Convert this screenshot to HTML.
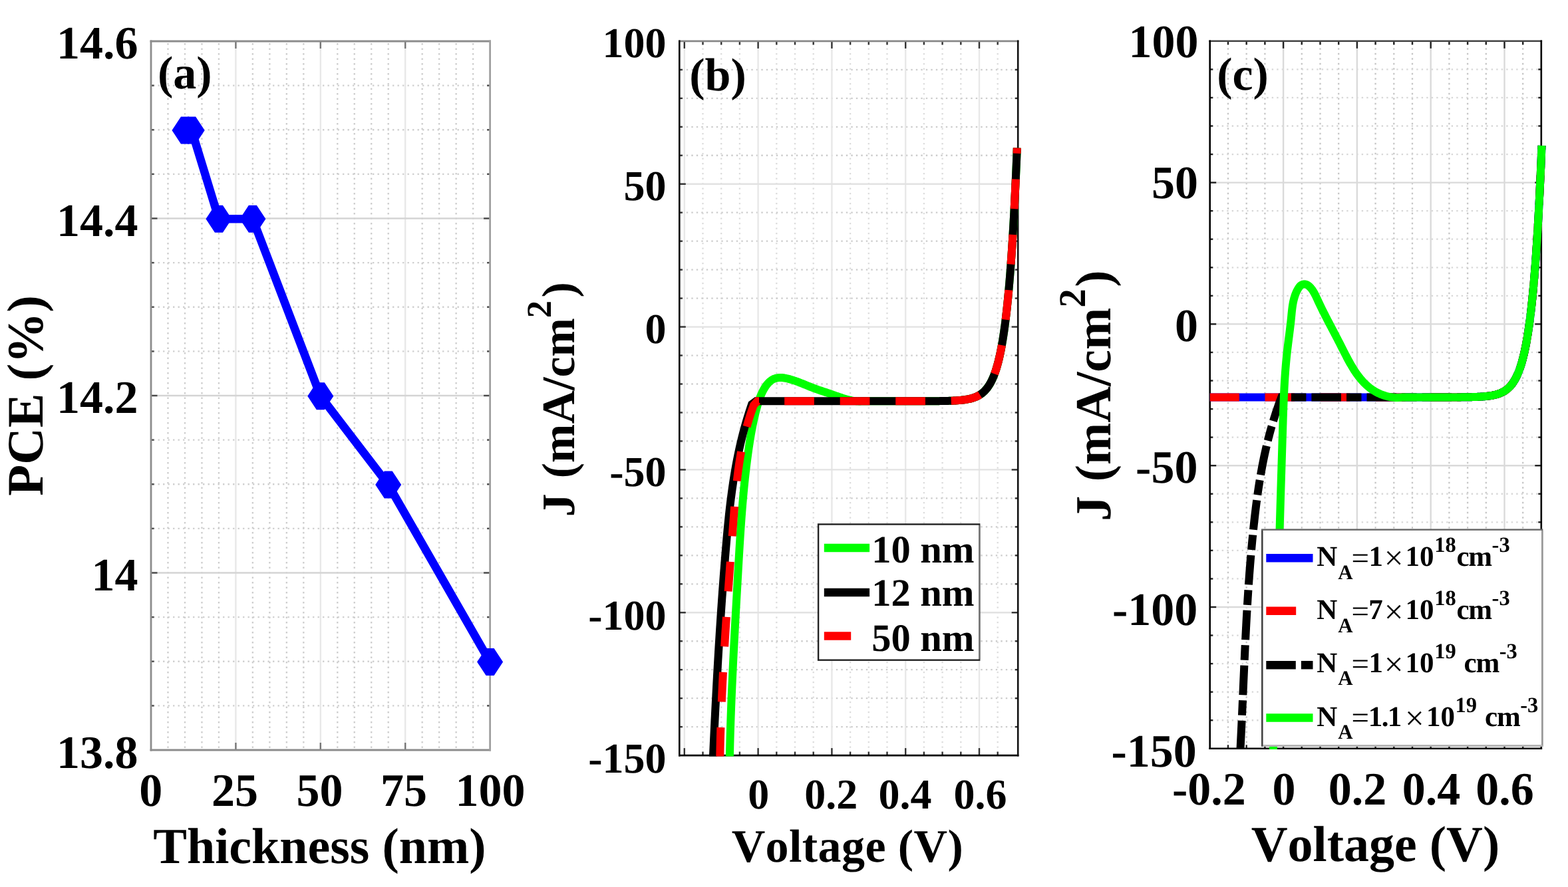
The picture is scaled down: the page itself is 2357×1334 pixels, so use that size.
<!DOCTYPE html>
<html lang="en"><head><meta charset="utf-8"><title>PCE and J-V characteristics</title>
<style>
html,body{margin:0;padding:0;background:#fff;width:2357px;height:1334px;overflow:hidden}
svg{display:block;filter:blur(0.55px)}
text{font-family:"Liberation Serif","DejaVu Serif",serif;font-weight:bold;fill:#000;font-kerning:none;font-feature-settings:"kern" 0,"liga" 0;text-rendering:geometricPrecision;white-space:pre}
</style></head><body>
<svg width="2357" height="1334" viewBox="0 0 2357 1334">
<rect width="2357" height="1334" fill="#fff"/>
<g id="a-grid">
<line x1="252.48" y1="62" x2="252.48" y2="1128" stroke="#cdcdcd" stroke-width="2.3" stroke-dasharray="2.4 5.1" stroke-dashoffset="-3"/>
<line x1="277.96" y1="62" x2="277.96" y2="1128" stroke="#cdcdcd" stroke-width="2.3" stroke-dasharray="2.4 5.1" stroke-dashoffset="-3"/>
<line x1="303.44" y1="62" x2="303.44" y2="1128" stroke="#cdcdcd" stroke-width="2.3" stroke-dasharray="2.4 5.1" stroke-dashoffset="-3"/>
<line x1="328.92" y1="62" x2="328.92" y2="1128" stroke="#cdcdcd" stroke-width="2.3" stroke-dasharray="2.4 5.1" stroke-dashoffset="-3"/>
<line x1="379.88" y1="62" x2="379.88" y2="1128" stroke="#cdcdcd" stroke-width="2.3" stroke-dasharray="2.4 5.1" stroke-dashoffset="-3"/>
<line x1="405.36" y1="62" x2="405.36" y2="1128" stroke="#cdcdcd" stroke-width="2.3" stroke-dasharray="2.4 5.1" stroke-dashoffset="-3"/>
<line x1="430.84" y1="62" x2="430.84" y2="1128" stroke="#cdcdcd" stroke-width="2.3" stroke-dasharray="2.4 5.1" stroke-dashoffset="-3"/>
<line x1="456.32" y1="62" x2="456.32" y2="1128" stroke="#cdcdcd" stroke-width="2.3" stroke-dasharray="2.4 5.1" stroke-dashoffset="-3"/>
<line x1="507.28" y1="62" x2="507.28" y2="1128" stroke="#cdcdcd" stroke-width="2.3" stroke-dasharray="2.4 5.1" stroke-dashoffset="-3"/>
<line x1="532.76" y1="62" x2="532.76" y2="1128" stroke="#cdcdcd" stroke-width="2.3" stroke-dasharray="2.4 5.1" stroke-dashoffset="-3"/>
<line x1="558.24" y1="62" x2="558.24" y2="1128" stroke="#cdcdcd" stroke-width="2.3" stroke-dasharray="2.4 5.1" stroke-dashoffset="-3"/>
<line x1="583.72" y1="62" x2="583.72" y2="1128" stroke="#cdcdcd" stroke-width="2.3" stroke-dasharray="2.4 5.1" stroke-dashoffset="-3"/>
<line x1="634.68" y1="62" x2="634.68" y2="1128" stroke="#cdcdcd" stroke-width="2.3" stroke-dasharray="2.4 5.1" stroke-dashoffset="-3"/>
<line x1="660.16" y1="62" x2="660.16" y2="1128" stroke="#cdcdcd" stroke-width="2.3" stroke-dasharray="2.4 5.1" stroke-dashoffset="-3"/>
<line x1="685.64" y1="62" x2="685.64" y2="1128" stroke="#cdcdcd" stroke-width="2.3" stroke-dasharray="2.4 5.1" stroke-dashoffset="-3"/>
<line x1="711.12" y1="62" x2="711.12" y2="1128" stroke="#cdcdcd" stroke-width="2.3" stroke-dasharray="2.4 5.1" stroke-dashoffset="-3"/>
<line x1="227" y1="1061.37" x2="736.6" y2="1061.37" stroke="#d0d0d0" stroke-width="2.3" stroke-dasharray="2.4 5.1" stroke-dashoffset="-3"/>
<line x1="227" y1="994.75" x2="736.6" y2="994.75" stroke="#d0d0d0" stroke-width="2.3" stroke-dasharray="2.4 5.1" stroke-dashoffset="-3"/>
<line x1="227" y1="928.12" x2="736.6" y2="928.12" stroke="#d0d0d0" stroke-width="2.3" stroke-dasharray="2.4 5.1" stroke-dashoffset="-3"/>
<line x1="227" y1="794.88" x2="736.6" y2="794.88" stroke="#d0d0d0" stroke-width="2.3" stroke-dasharray="2.4 5.1" stroke-dashoffset="-3"/>
<line x1="227" y1="728.25" x2="736.6" y2="728.25" stroke="#d0d0d0" stroke-width="2.3" stroke-dasharray="2.4 5.1" stroke-dashoffset="-3"/>
<line x1="227" y1="661.63" x2="736.6" y2="661.63" stroke="#d0d0d0" stroke-width="2.3" stroke-dasharray="2.4 5.1" stroke-dashoffset="-3"/>
<line x1="227" y1="528.38" x2="736.6" y2="528.38" stroke="#d0d0d0" stroke-width="2.3" stroke-dasharray="2.4 5.1" stroke-dashoffset="-3"/>
<line x1="227" y1="461.75" x2="736.6" y2="461.75" stroke="#d0d0d0" stroke-width="2.3" stroke-dasharray="2.4 5.1" stroke-dashoffset="-3"/>
<line x1="227" y1="395.12" x2="736.6" y2="395.12" stroke="#d0d0d0" stroke-width="2.3" stroke-dasharray="2.4 5.1" stroke-dashoffset="-3"/>
<line x1="227" y1="261.87" x2="736.6" y2="261.87" stroke="#d0d0d0" stroke-width="2.3" stroke-dasharray="2.4 5.1" stroke-dashoffset="-3"/>
<line x1="227" y1="195.25" x2="736.6" y2="195.25" stroke="#d0d0d0" stroke-width="2.3" stroke-dasharray="2.4 5.1" stroke-dashoffset="-3"/>
<line x1="227" y1="128.62" x2="736.6" y2="128.62" stroke="#d0d0d0" stroke-width="2.3" stroke-dasharray="2.4 5.1" stroke-dashoffset="-3"/>
<line x1="354.4" y1="62" x2="354.4" y2="1128" stroke="#e8e8e8" stroke-width="2.4"/>
<line x1="481.8" y1="62" x2="481.8" y2="1128" stroke="#e8e8e8" stroke-width="2.4"/>
<line x1="609.2" y1="62" x2="609.2" y2="1128" stroke="#e8e8e8" stroke-width="2.4"/>
<line x1="227" y1="861.5" x2="736.6" y2="861.5" stroke="#d4d4d4" stroke-width="2.4"/>
<line x1="227" y1="595" x2="736.6" y2="595" stroke="#d4d4d4" stroke-width="2.4"/>
<line x1="227" y1="328.5" x2="736.6" y2="328.5" stroke="#d4d4d4" stroke-width="2.4"/>
</g>
<g id="a-frame">
<line x1="354.4" y1="1128" x2="354.4" y2="1117" stroke="#777" stroke-width="2.4"/>
<line x1="354.4" y1="62" x2="354.4" y2="73" stroke="#777" stroke-width="2.4"/>
<line x1="481.8" y1="1128" x2="481.8" y2="1117" stroke="#777" stroke-width="2.4"/>
<line x1="481.8" y1="62" x2="481.8" y2="73" stroke="#777" stroke-width="2.4"/>
<line x1="609.2" y1="1128" x2="609.2" y2="1117" stroke="#777" stroke-width="2.4"/>
<line x1="609.2" y1="62" x2="609.2" y2="73" stroke="#777" stroke-width="2.4"/>
<line x1="227" y1="1061.37" x2="231.5" y2="1061.37" stroke="#4a4a4a" stroke-width="2.4"/>
<line x1="736.6" y1="1061.37" x2="732.1" y2="1061.37" stroke="#4a4a4a" stroke-width="2.4"/>
<line x1="227" y1="994.75" x2="231.5" y2="994.75" stroke="#4a4a4a" stroke-width="2.4"/>
<line x1="736.6" y1="994.75" x2="732.1" y2="994.75" stroke="#4a4a4a" stroke-width="2.4"/>
<line x1="227" y1="928.12" x2="231.5" y2="928.12" stroke="#4a4a4a" stroke-width="2.4"/>
<line x1="736.6" y1="928.12" x2="732.1" y2="928.12" stroke="#4a4a4a" stroke-width="2.4"/>
<line x1="227" y1="861.5" x2="236.5" y2="861.5" stroke="#4a4a4a" stroke-width="2.4"/>
<line x1="736.6" y1="861.5" x2="727.1" y2="861.5" stroke="#4a4a4a" stroke-width="2.4"/>
<line x1="227" y1="794.88" x2="231.5" y2="794.88" stroke="#4a4a4a" stroke-width="2.4"/>
<line x1="736.6" y1="794.88" x2="732.1" y2="794.88" stroke="#4a4a4a" stroke-width="2.4"/>
<line x1="227" y1="728.25" x2="231.5" y2="728.25" stroke="#4a4a4a" stroke-width="2.4"/>
<line x1="736.6" y1="728.25" x2="732.1" y2="728.25" stroke="#4a4a4a" stroke-width="2.4"/>
<line x1="227" y1="661.63" x2="231.5" y2="661.63" stroke="#4a4a4a" stroke-width="2.4"/>
<line x1="736.6" y1="661.63" x2="732.1" y2="661.63" stroke="#4a4a4a" stroke-width="2.4"/>
<line x1="227" y1="595" x2="236.5" y2="595" stroke="#4a4a4a" stroke-width="2.4"/>
<line x1="736.6" y1="595" x2="727.1" y2="595" stroke="#4a4a4a" stroke-width="2.4"/>
<line x1="227" y1="528.38" x2="231.5" y2="528.38" stroke="#4a4a4a" stroke-width="2.4"/>
<line x1="736.6" y1="528.38" x2="732.1" y2="528.38" stroke="#4a4a4a" stroke-width="2.4"/>
<line x1="227" y1="461.75" x2="231.5" y2="461.75" stroke="#4a4a4a" stroke-width="2.4"/>
<line x1="736.6" y1="461.75" x2="732.1" y2="461.75" stroke="#4a4a4a" stroke-width="2.4"/>
<line x1="227" y1="395.12" x2="231.5" y2="395.12" stroke="#4a4a4a" stroke-width="2.4"/>
<line x1="736.6" y1="395.12" x2="732.1" y2="395.12" stroke="#4a4a4a" stroke-width="2.4"/>
<line x1="227" y1="328.5" x2="236.5" y2="328.5" stroke="#4a4a4a" stroke-width="2.4"/>
<line x1="736.6" y1="328.5" x2="727.1" y2="328.5" stroke="#4a4a4a" stroke-width="2.4"/>
<line x1="227" y1="261.87" x2="231.5" y2="261.87" stroke="#4a4a4a" stroke-width="2.4"/>
<line x1="736.6" y1="261.87" x2="732.1" y2="261.87" stroke="#4a4a4a" stroke-width="2.4"/>
<line x1="227" y1="195.25" x2="231.5" y2="195.25" stroke="#4a4a4a" stroke-width="2.4"/>
<line x1="736.6" y1="195.25" x2="732.1" y2="195.25" stroke="#4a4a4a" stroke-width="2.4"/>
<line x1="227" y1="128.62" x2="231.5" y2="128.62" stroke="#4a4a4a" stroke-width="2.4"/>
<line x1="736.6" y1="128.62" x2="732.1" y2="128.62" stroke="#4a4a4a" stroke-width="2.4"/>
<line x1="225.6" y1="62" x2="738" y2="62" stroke="#8c8c8c" stroke-width="2.8"/>
<line x1="225.6" y1="1128" x2="738" y2="1128" stroke="#8c8c8c" stroke-width="2.8"/>
<line x1="227" y1="60.6" x2="227" y2="1129.4" stroke="#8c8c8c" stroke-width="2.8"/>
<line x1="736.6" y1="60.6" x2="736.6" y2="1129.4" stroke="#a0a0a0" stroke-width="2.8"/>
</g>
<g id="a-data">
<path d="M277.96,196.05 L288.15,196.05 L328.92,329.3 L379.88,329.3 L481.8,595.8 L583.72,729.05 L736.6,995.55" fill="none" stroke="#0000ff" stroke-width="12.5" stroke-linejoin="round"/>
<polygon points="271.96,175.55 283.96,175.55 297.46,196.05 283.96,216.55 271.96,216.55 258.46,196.05" fill="#0000ff"/>
<polygon points="282.15,175.55 294.15,175.55 307.65,196.05 294.15,216.55 282.15,216.55 268.65,196.05" fill="#0000ff"/>
<polygon points="322.92,308.8 334.92,308.8 348.42,329.3 334.92,349.8 322.92,349.8 309.42,329.3" fill="#0000ff"/>
<polygon points="373.88,308.8 385.88,308.8 399.38,329.3 385.88,349.8 373.88,349.8 360.38,329.3" fill="#0000ff"/>
<polygon points="475.8,575.3 487.8,575.3 501.3,595.8 487.8,616.3 475.8,616.3 462.3,595.8" fill="#0000ff"/>
<polygon points="577.72,708.55 589.72,708.55 603.22,729.05 589.72,749.55 577.72,749.55 564.22,729.05" fill="#0000ff"/>
<polygon points="730.6,975.05 742.6,975.05 756.1,995.55 742.6,1016.05 730.6,1016.05 717.1,995.55" fill="#0000ff"/>
</g>
<g id="a-labels">
<text x="207.5" y="88.2" font-size="70" text-anchor="end">14.6</text>
<text x="207.5" y="355" font-size="70" text-anchor="end">14.4</text>
<text x="207.5" y="621.2" font-size="70" text-anchor="end">14.2</text>
<text x="207.5" y="888" font-size="70" text-anchor="end">14</text>
<text x="207.5" y="1155.3" font-size="70" text-anchor="end">13.8</text>
<text x="226.7" y="1212.3" font-size="70" text-anchor="middle">0</text>
<text x="353" y="1212.3" font-size="70" text-anchor="middle">25</text>
<text x="480.6" y="1212.3" font-size="70" text-anchor="middle">50</text>
<text x="607" y="1212.3" font-size="70" text-anchor="middle">75</text>
<text x="737" y="1212.3" font-size="70" text-anchor="middle">100</text>
<text x="480.4" y="1298.2" font-size="76" text-anchor="middle">Thickness (nm)</text>
<text transform="translate(63.7 595) rotate(-90)" font-size="77" text-anchor="middle">PCE (%)</text>
<text x="277.7" y="133" font-size="70" text-anchor="middle">(a)</text>
</g>
<g id="b-grid">
<line x1="1056.5" y1="61.9" x2="1056.5" y2="1136.1" stroke="#dcdcdc" stroke-width="2.3" stroke-dasharray="2.4 5.1" stroke-dashoffset="-3"/>
<line x1="1084.2" y1="61.9" x2="1084.2" y2="1136.1" stroke="#dcdcdc" stroke-width="2.3" stroke-dasharray="2.4 5.1" stroke-dashoffset="-3"/>
<line x1="1111.9" y1="61.9" x2="1111.9" y2="1136.1" stroke="#dcdcdc" stroke-width="2.3" stroke-dasharray="2.4 5.1" stroke-dashoffset="-3"/>
<line x1="1167.3" y1="61.9" x2="1167.3" y2="1136.1" stroke="#dcdcdc" stroke-width="2.3" stroke-dasharray="2.4 5.1" stroke-dashoffset="-3"/>
<line x1="1195" y1="61.9" x2="1195" y2="1136.1" stroke="#dcdcdc" stroke-width="2.3" stroke-dasharray="2.4 5.1" stroke-dashoffset="-3"/>
<line x1="1222.7" y1="61.9" x2="1222.7" y2="1136.1" stroke="#dcdcdc" stroke-width="2.3" stroke-dasharray="2.4 5.1" stroke-dashoffset="-3"/>
<line x1="1278.1" y1="61.9" x2="1278.1" y2="1136.1" stroke="#dcdcdc" stroke-width="2.3" stroke-dasharray="2.4 5.1" stroke-dashoffset="-3"/>
<line x1="1305.8" y1="61.9" x2="1305.8" y2="1136.1" stroke="#dcdcdc" stroke-width="2.3" stroke-dasharray="2.4 5.1" stroke-dashoffset="-3"/>
<line x1="1333.5" y1="61.9" x2="1333.5" y2="1136.1" stroke="#dcdcdc" stroke-width="2.3" stroke-dasharray="2.4 5.1" stroke-dashoffset="-3"/>
<line x1="1388.9" y1="61.9" x2="1388.9" y2="1136.1" stroke="#dcdcdc" stroke-width="2.3" stroke-dasharray="2.4 5.1" stroke-dashoffset="-3"/>
<line x1="1416.6" y1="61.9" x2="1416.6" y2="1136.1" stroke="#dcdcdc" stroke-width="2.3" stroke-dasharray="2.4 5.1" stroke-dashoffset="-3"/>
<line x1="1444.3" y1="61.9" x2="1444.3" y2="1136.1" stroke="#dcdcdc" stroke-width="2.3" stroke-dasharray="2.4 5.1" stroke-dashoffset="-3"/>
<line x1="1499.7" y1="61.9" x2="1499.7" y2="1136.1" stroke="#dcdcdc" stroke-width="2.3" stroke-dasharray="2.4 5.1" stroke-dashoffset="-3"/>
<line x1="1021.3" y1="1093.13" x2="1530.2" y2="1093.13" stroke="#cccccc" stroke-width="2.3" stroke-dasharray="2.4 5.1" stroke-dashoffset="-3"/>
<line x1="1021.3" y1="1050.16" x2="1530.2" y2="1050.16" stroke="#cccccc" stroke-width="2.3" stroke-dasharray="2.4 5.1" stroke-dashoffset="-3"/>
<line x1="1021.3" y1="1007.2" x2="1530.2" y2="1007.2" stroke="#cccccc" stroke-width="2.3" stroke-dasharray="2.4 5.1" stroke-dashoffset="-3"/>
<line x1="1021.3" y1="964.23" x2="1530.2" y2="964.23" stroke="#cccccc" stroke-width="2.3" stroke-dasharray="2.4 5.1" stroke-dashoffset="-3"/>
<line x1="1021.3" y1="878.29" x2="1530.2" y2="878.29" stroke="#cccccc" stroke-width="2.3" stroke-dasharray="2.4 5.1" stroke-dashoffset="-3"/>
<line x1="1021.3" y1="835.32" x2="1530.2" y2="835.32" stroke="#cccccc" stroke-width="2.3" stroke-dasharray="2.4 5.1" stroke-dashoffset="-3"/>
<line x1="1021.3" y1="792.36" x2="1530.2" y2="792.36" stroke="#cccccc" stroke-width="2.3" stroke-dasharray="2.4 5.1" stroke-dashoffset="-3"/>
<line x1="1021.3" y1="749.39" x2="1530.2" y2="749.39" stroke="#cccccc" stroke-width="2.3" stroke-dasharray="2.4 5.1" stroke-dashoffset="-3"/>
<line x1="1021.3" y1="663.45" x2="1530.2" y2="663.45" stroke="#cccccc" stroke-width="2.3" stroke-dasharray="2.4 5.1" stroke-dashoffset="-3"/>
<line x1="1021.3" y1="620.48" x2="1530.2" y2="620.48" stroke="#cccccc" stroke-width="2.3" stroke-dasharray="2.4 5.1" stroke-dashoffset="-3"/>
<line x1="1021.3" y1="577.52" x2="1530.2" y2="577.52" stroke="#cccccc" stroke-width="2.3" stroke-dasharray="2.4 5.1" stroke-dashoffset="-3"/>
<line x1="1021.3" y1="534.55" x2="1530.2" y2="534.55" stroke="#cccccc" stroke-width="2.3" stroke-dasharray="2.4 5.1" stroke-dashoffset="-3"/>
<line x1="1021.3" y1="448.61" x2="1530.2" y2="448.61" stroke="#cccccc" stroke-width="2.3" stroke-dasharray="2.4 5.1" stroke-dashoffset="-3"/>
<line x1="1021.3" y1="405.64" x2="1530.2" y2="405.64" stroke="#cccccc" stroke-width="2.3" stroke-dasharray="2.4 5.1" stroke-dashoffset="-3"/>
<line x1="1021.3" y1="362.68" x2="1530.2" y2="362.68" stroke="#cccccc" stroke-width="2.3" stroke-dasharray="2.4 5.1" stroke-dashoffset="-3"/>
<line x1="1021.3" y1="319.71" x2="1530.2" y2="319.71" stroke="#cccccc" stroke-width="2.3" stroke-dasharray="2.4 5.1" stroke-dashoffset="-3"/>
<line x1="1021.3" y1="233.77" x2="1530.2" y2="233.77" stroke="#cccccc" stroke-width="2.3" stroke-dasharray="2.4 5.1" stroke-dashoffset="-3"/>
<line x1="1021.3" y1="190.8" x2="1530.2" y2="190.8" stroke="#cccccc" stroke-width="2.3" stroke-dasharray="2.4 5.1" stroke-dashoffset="-3"/>
<line x1="1021.3" y1="147.84" x2="1530.2" y2="147.84" stroke="#cccccc" stroke-width="2.3" stroke-dasharray="2.4 5.1" stroke-dashoffset="-3"/>
<line x1="1021.3" y1="104.87" x2="1530.2" y2="104.87" stroke="#cccccc" stroke-width="2.3" stroke-dasharray="2.4 5.1" stroke-dashoffset="-3"/>
<line x1="1028.8" y1="61.9" x2="1028.8" y2="1136.1" stroke="#e8e8e8" stroke-width="2.4"/>
<line x1="1139.6" y1="61.9" x2="1139.6" y2="1136.1" stroke="#e8e8e8" stroke-width="2.4"/>
<line x1="1250.4" y1="61.9" x2="1250.4" y2="1136.1" stroke="#e8e8e8" stroke-width="2.4"/>
<line x1="1361.2" y1="61.9" x2="1361.2" y2="1136.1" stroke="#e8e8e8" stroke-width="2.4"/>
<line x1="1472" y1="61.9" x2="1472" y2="1136.1" stroke="#e8e8e8" stroke-width="2.4"/>
<line x1="1021.3" y1="921.26" x2="1530.2" y2="921.26" stroke="#e2e2e2" stroke-width="2.4"/>
<line x1="1021.3" y1="706.42" x2="1530.2" y2="706.42" stroke="#e2e2e2" stroke-width="2.4"/>
<line x1="1021.3" y1="491.58" x2="1530.2" y2="491.58" stroke="#e2e2e2" stroke-width="2.4"/>
<line x1="1021.3" y1="276.74" x2="1530.2" y2="276.74" stroke="#e2e2e2" stroke-width="2.4"/>
</g>
<g id="b-frame">
<line x1="1028.8" y1="1136.1" x2="1028.8" y2="1125.1" stroke="#333" stroke-width="2.4"/>
<line x1="1028.8" y1="61.9" x2="1028.8" y2="72.9" stroke="#333" stroke-width="2.4"/>
<line x1="1056.5" y1="1136.1" x2="1056.5" y2="1130.6" stroke="#333" stroke-width="2.4"/>
<line x1="1056.5" y1="61.9" x2="1056.5" y2="67.4" stroke="#333" stroke-width="2.4"/>
<line x1="1084.2" y1="1136.1" x2="1084.2" y2="1130.6" stroke="#333" stroke-width="2.4"/>
<line x1="1084.2" y1="61.9" x2="1084.2" y2="67.4" stroke="#333" stroke-width="2.4"/>
<line x1="1111.9" y1="1136.1" x2="1111.9" y2="1130.6" stroke="#333" stroke-width="2.4"/>
<line x1="1111.9" y1="61.9" x2="1111.9" y2="67.4" stroke="#333" stroke-width="2.4"/>
<line x1="1139.6" y1="1136.1" x2="1139.6" y2="1125.1" stroke="#333" stroke-width="2.4"/>
<line x1="1139.6" y1="61.9" x2="1139.6" y2="72.9" stroke="#333" stroke-width="2.4"/>
<line x1="1167.3" y1="1136.1" x2="1167.3" y2="1130.6" stroke="#333" stroke-width="2.4"/>
<line x1="1167.3" y1="61.9" x2="1167.3" y2="67.4" stroke="#333" stroke-width="2.4"/>
<line x1="1195" y1="1136.1" x2="1195" y2="1130.6" stroke="#333" stroke-width="2.4"/>
<line x1="1195" y1="61.9" x2="1195" y2="67.4" stroke="#333" stroke-width="2.4"/>
<line x1="1222.7" y1="1136.1" x2="1222.7" y2="1130.6" stroke="#333" stroke-width="2.4"/>
<line x1="1222.7" y1="61.9" x2="1222.7" y2="67.4" stroke="#333" stroke-width="2.4"/>
<line x1="1250.4" y1="1136.1" x2="1250.4" y2="1125.1" stroke="#333" stroke-width="2.4"/>
<line x1="1250.4" y1="61.9" x2="1250.4" y2="72.9" stroke="#333" stroke-width="2.4"/>
<line x1="1278.1" y1="1136.1" x2="1278.1" y2="1130.6" stroke="#333" stroke-width="2.4"/>
<line x1="1278.1" y1="61.9" x2="1278.1" y2="67.4" stroke="#333" stroke-width="2.4"/>
<line x1="1305.8" y1="1136.1" x2="1305.8" y2="1130.6" stroke="#333" stroke-width="2.4"/>
<line x1="1305.8" y1="61.9" x2="1305.8" y2="67.4" stroke="#333" stroke-width="2.4"/>
<line x1="1333.5" y1="1136.1" x2="1333.5" y2="1130.6" stroke="#333" stroke-width="2.4"/>
<line x1="1333.5" y1="61.9" x2="1333.5" y2="67.4" stroke="#333" stroke-width="2.4"/>
<line x1="1361.2" y1="1136.1" x2="1361.2" y2="1125.1" stroke="#333" stroke-width="2.4"/>
<line x1="1361.2" y1="61.9" x2="1361.2" y2="72.9" stroke="#333" stroke-width="2.4"/>
<line x1="1388.9" y1="1136.1" x2="1388.9" y2="1130.6" stroke="#333" stroke-width="2.4"/>
<line x1="1388.9" y1="61.9" x2="1388.9" y2="67.4" stroke="#333" stroke-width="2.4"/>
<line x1="1416.6" y1="1136.1" x2="1416.6" y2="1130.6" stroke="#333" stroke-width="2.4"/>
<line x1="1416.6" y1="61.9" x2="1416.6" y2="67.4" stroke="#333" stroke-width="2.4"/>
<line x1="1444.3" y1="1136.1" x2="1444.3" y2="1130.6" stroke="#333" stroke-width="2.4"/>
<line x1="1444.3" y1="61.9" x2="1444.3" y2="67.4" stroke="#333" stroke-width="2.4"/>
<line x1="1472" y1="1136.1" x2="1472" y2="1125.1" stroke="#333" stroke-width="2.4"/>
<line x1="1472" y1="61.9" x2="1472" y2="72.9" stroke="#333" stroke-width="2.4"/>
<line x1="1499.7" y1="1136.1" x2="1499.7" y2="1130.6" stroke="#333" stroke-width="2.4"/>
<line x1="1499.7" y1="61.9" x2="1499.7" y2="67.4" stroke="#333" stroke-width="2.4"/>
<line x1="1021.3" y1="1093.13" x2="1025.8" y2="1093.13" stroke="#333" stroke-width="2.4"/>
<line x1="1530.2" y1="1093.13" x2="1525.7" y2="1093.13" stroke="#333" stroke-width="2.4"/>
<line x1="1021.3" y1="1050.16" x2="1025.8" y2="1050.16" stroke="#333" stroke-width="2.4"/>
<line x1="1530.2" y1="1050.16" x2="1525.7" y2="1050.16" stroke="#333" stroke-width="2.4"/>
<line x1="1021.3" y1="1007.2" x2="1025.8" y2="1007.2" stroke="#333" stroke-width="2.4"/>
<line x1="1530.2" y1="1007.2" x2="1525.7" y2="1007.2" stroke="#333" stroke-width="2.4"/>
<line x1="1021.3" y1="964.23" x2="1025.8" y2="964.23" stroke="#333" stroke-width="2.4"/>
<line x1="1530.2" y1="964.23" x2="1525.7" y2="964.23" stroke="#333" stroke-width="2.4"/>
<line x1="1021.3" y1="921.26" x2="1030.8" y2="921.26" stroke="#333" stroke-width="2.4"/>
<line x1="1530.2" y1="921.26" x2="1520.7" y2="921.26" stroke="#333" stroke-width="2.4"/>
<line x1="1021.3" y1="878.29" x2="1025.8" y2="878.29" stroke="#333" stroke-width="2.4"/>
<line x1="1530.2" y1="878.29" x2="1525.7" y2="878.29" stroke="#333" stroke-width="2.4"/>
<line x1="1021.3" y1="835.32" x2="1025.8" y2="835.32" stroke="#333" stroke-width="2.4"/>
<line x1="1530.2" y1="835.32" x2="1525.7" y2="835.32" stroke="#333" stroke-width="2.4"/>
<line x1="1021.3" y1="792.36" x2="1025.8" y2="792.36" stroke="#333" stroke-width="2.4"/>
<line x1="1530.2" y1="792.36" x2="1525.7" y2="792.36" stroke="#333" stroke-width="2.4"/>
<line x1="1021.3" y1="749.39" x2="1025.8" y2="749.39" stroke="#333" stroke-width="2.4"/>
<line x1="1530.2" y1="749.39" x2="1525.7" y2="749.39" stroke="#333" stroke-width="2.4"/>
<line x1="1021.3" y1="706.42" x2="1030.8" y2="706.42" stroke="#333" stroke-width="2.4"/>
<line x1="1530.2" y1="706.42" x2="1520.7" y2="706.42" stroke="#333" stroke-width="2.4"/>
<line x1="1021.3" y1="663.45" x2="1025.8" y2="663.45" stroke="#333" stroke-width="2.4"/>
<line x1="1530.2" y1="663.45" x2="1525.7" y2="663.45" stroke="#333" stroke-width="2.4"/>
<line x1="1021.3" y1="620.48" x2="1025.8" y2="620.48" stroke="#333" stroke-width="2.4"/>
<line x1="1530.2" y1="620.48" x2="1525.7" y2="620.48" stroke="#333" stroke-width="2.4"/>
<line x1="1021.3" y1="577.52" x2="1025.8" y2="577.52" stroke="#333" stroke-width="2.4"/>
<line x1="1530.2" y1="577.52" x2="1525.7" y2="577.52" stroke="#333" stroke-width="2.4"/>
<line x1="1021.3" y1="534.55" x2="1025.8" y2="534.55" stroke="#333" stroke-width="2.4"/>
<line x1="1530.2" y1="534.55" x2="1525.7" y2="534.55" stroke="#333" stroke-width="2.4"/>
<line x1="1021.3" y1="491.58" x2="1030.8" y2="491.58" stroke="#333" stroke-width="2.4"/>
<line x1="1530.2" y1="491.58" x2="1520.7" y2="491.58" stroke="#333" stroke-width="2.4"/>
<line x1="1021.3" y1="448.61" x2="1025.8" y2="448.61" stroke="#333" stroke-width="2.4"/>
<line x1="1530.2" y1="448.61" x2="1525.7" y2="448.61" stroke="#333" stroke-width="2.4"/>
<line x1="1021.3" y1="405.64" x2="1025.8" y2="405.64" stroke="#333" stroke-width="2.4"/>
<line x1="1530.2" y1="405.64" x2="1525.7" y2="405.64" stroke="#333" stroke-width="2.4"/>
<line x1="1021.3" y1="362.68" x2="1025.8" y2="362.68" stroke="#333" stroke-width="2.4"/>
<line x1="1530.2" y1="362.68" x2="1525.7" y2="362.68" stroke="#333" stroke-width="2.4"/>
<line x1="1021.3" y1="319.71" x2="1025.8" y2="319.71" stroke="#333" stroke-width="2.4"/>
<line x1="1530.2" y1="319.71" x2="1525.7" y2="319.71" stroke="#333" stroke-width="2.4"/>
<line x1="1021.3" y1="276.74" x2="1030.8" y2="276.74" stroke="#333" stroke-width="2.4"/>
<line x1="1530.2" y1="276.74" x2="1520.7" y2="276.74" stroke="#333" stroke-width="2.4"/>
<line x1="1021.3" y1="233.77" x2="1025.8" y2="233.77" stroke="#333" stroke-width="2.4"/>
<line x1="1530.2" y1="233.77" x2="1525.7" y2="233.77" stroke="#333" stroke-width="2.4"/>
<line x1="1021.3" y1="190.8" x2="1025.8" y2="190.8" stroke="#333" stroke-width="2.4"/>
<line x1="1530.2" y1="190.8" x2="1525.7" y2="190.8" stroke="#333" stroke-width="2.4"/>
<line x1="1021.3" y1="147.84" x2="1025.8" y2="147.84" stroke="#333" stroke-width="2.4"/>
<line x1="1530.2" y1="147.84" x2="1525.7" y2="147.84" stroke="#333" stroke-width="2.4"/>
<line x1="1021.3" y1="104.87" x2="1025.8" y2="104.87" stroke="#333" stroke-width="2.4"/>
<line x1="1530.2" y1="104.87" x2="1525.7" y2="104.87" stroke="#333" stroke-width="2.4"/>
<line x1="1020" y1="61.9" x2="1531.5" y2="61.9" stroke="#888" stroke-width="2.6"/>
<line x1="1020" y1="1136.1" x2="1531.5" y2="1136.1" stroke="#000" stroke-width="2.6"/>
<line x1="1021.3" y1="60.6" x2="1021.3" y2="1137.4" stroke="#000" stroke-width="2.6"/>
<line x1="1530.2" y1="60.6" x2="1530.2" y2="1137.4" stroke="#111" stroke-width="2.6"/>
</g>
<clipPath id="clipb"><rect x="1021.3" y="61.9" width="516.9" height="1075.5"/></clipPath>
<g id="b-data" stroke-linejoin="round" clip-path="url(#clipb)">
<path d="M1096.68,1149.94 L1096.71,1148.12 L1096.74,1146.29 L1096.78,1144.47 L1096.81,1142.65 L1096.84,1140.83 L1096.88,1139.01 L1096.92,1137.18 L1096.95,1135.36 L1096.99,1133.54 L1097.03,1131.72 L1097.07,1129.89 L1097.11,1128.07 L1097.15,1126.25 L1097.2,1124.42 L1097.24,1122.6 L1097.28,1120.78 L1097.33,1118.95 L1097.38,1117.13 L1097.42,1115.31 L1097.47,1113.48 L1097.52,1111.66 L1097.57,1109.84 L1097.62,1108.01 L1097.67,1106.19 L1097.72,1104.36 L1097.78,1102.54 L1097.83,1100.71 L1097.89,1098.89 L1097.94,1097.07 L1098,1095.24 L1098.06,1093.42 L1098.11,1091.59 L1098.17,1089.77 L1098.23,1087.94 L1098.29,1086.12 L1098.35,1084.29 L1098.42,1082.47 L1098.48,1080.64 L1098.54,1078.81 L1098.6,1076.99 L1098.67,1075.16 L1098.74,1073.34 L1098.8,1071.51 L1098.87,1069.69 L1098.94,1067.86 L1099,1066.03 L1099.07,1064.21 L1099.14,1062.38 L1099.21,1060.56 L1099.28,1058.73 L1099.36,1056.9 L1099.43,1055.08 L1099.5,1053.25 L1099.57,1051.42 L1099.65,1049.6 L1099.72,1047.77 L1099.8,1045.94 L1099.87,1044.12 L1099.95,1042.29 L1100.03,1040.46 L1100.11,1038.64 L1100.18,1036.81 L1100.26,1034.98 L1100.34,1033.16 L1100.42,1031.33 L1100.5,1029.5 L1100.59,1027.67 L1100.67,1025.85 L1100.75,1024.02 L1100.83,1022.19 L1100.92,1020.37 L1101,1018.54 L1101.08,1016.71 L1101.17,1014.88 L1101.25,1013.06 L1101.34,1011.23 L1101.43,1009.4 L1101.51,1007.57 L1101.6,1005.75 L1101.69,1003.92 L1101.78,1002.09 L1101.87,1000.26 L1101.95,998.44 L1102.04,996.61 L1102.13,994.78 L1102.22,992.95 L1102.32,991.13 L1102.41,989.3 L1102.5,987.47 L1102.59,985.64 L1102.68,983.82 L1102.78,981.99 L1102.87,980.16 L1102.96,978.33 L1103.06,976.51 L1103.15,974.68 L1103.25,972.85 L1103.34,971.02 L1103.44,969.19 L1103.53,967.37 L1103.63,965.54 L1103.72,963.71 L1103.82,961.88 L1103.92,960.06 L1104.01,958.23 L1104.11,956.4 L1104.21,954.57 L1104.31,952.75 L1104.41,950.92 L1104.5,949.09 L1104.6,947.26 L1104.7,945.44 L1104.8,943.61 L1104.9,941.78 L1105,939.95 L1105.1,938.13 L1105.2,936.3 L1105.3,934.47 L1105.4,932.65 L1105.5,930.82 L1105.6,928.99 L1105.71,927.16 L1105.81,925.34 L1105.91,923.51 L1106.01,921.68 L1106.11,919.86 L1106.21,918.03 L1106.32,916.2 L1106.42,914.38 L1106.52,912.55 L1106.62,910.72 L1106.73,908.9 L1106.83,907.07 L1106.93,905.24 L1107.04,903.42 L1107.14,901.59 L1107.24,899.76 L1107.35,897.94 L1107.45,896.11 L1107.55,894.28 L1107.66,892.46 L1107.76,890.63 L1107.86,888.81 L1107.97,886.98 L1108.07,885.15 L1108.17,883.33 L1108.28,881.5 L1108.38,879.68 L1108.48,877.85 L1108.59,876.03 L1108.69,874.2 L1108.79,872.38 L1108.9,870.55 L1109,868.73 L1109.11,866.9 L1109.21,865.08 L1109.31,863.25 L1109.42,861.43 L1109.52,859.6 L1109.62,857.78 L1109.73,855.95 L1109.83,854.13 L1109.93,852.3 L1110.04,850.48 L1110.14,848.66 L1110.25,846.83 L1110.35,845.01 L1110.45,843.18 L1110.56,841.36 L1110.66,839.54 L1110.77,837.71 L1110.88,835.89 L1110.98,834.07 L1111.09,832.24 L1111.2,830.42 L1111.31,828.6 L1111.41,826.77 L1111.52,824.95 L1111.63,823.13 L1111.74,821.31 L1111.85,819.48 L1111.97,817.66 L1112.08,815.84 L1112.19,814.02 L1112.31,812.2 L1112.42,810.37 L1112.54,808.55 L1112.65,806.73 L1112.77,804.91 L1112.89,803.09 L1113.01,801.27 L1113.13,799.45 L1113.25,797.63 L1113.37,795.8 L1113.49,793.98 L1113.62,792.16 L1113.75,790.34 L1113.87,788.52 L1114,786.7 L1114.13,784.88 L1114.26,783.06 L1114.39,781.24 L1114.52,779.43 L1114.66,777.61 L1114.79,775.79 L1114.93,773.97 L1115.07,772.15 L1115.21,770.33 L1115.35,768.51 L1115.5,766.69 L1115.64,764.88 L1115.79,763.06 L1115.93,761.24 L1116.08,759.42 L1116.23,757.61 L1116.39,755.79 L1116.54,753.97 L1116.7,752.16 L1116.86,750.34 L1117.02,748.52 L1117.18,746.71 L1117.34,744.89 L1117.51,743.07 L1117.68,741.26 L1117.85,739.44 L1118.02,737.63 L1118.19,735.81 L1118.37,734 L1118.54,732.18 L1118.72,730.37 L1118.91,728.55 L1119.09,726.74 L1119.28,724.92 L1119.47,723.11 L1119.66,721.3 L1119.85,719.48 L1120.05,717.67 L1120.24,715.86 L1120.44,714.04 L1120.65,712.23 L1120.85,710.42 L1121.06,708.61 L1121.27,706.79 L1121.48,704.98 L1121.7,703.17 L1121.92,701.36 L1122.14,699.55 L1122.36,697.74 L1122.59,695.93 L1122.81,694.12 L1123.05,692.31 L1123.28,690.5 L1123.52,688.69 L1123.76,686.88 L1124,685.07 L1124.24,683.26 L1124.49,681.45 L1124.74,679.64 L1125,677.83 L1125.26,676.02 L1125.52,674.21 L1125.78,672.41 L1126.05,670.6 L1126.32,668.79 L1126.6,666.98 L1126.88,665.18 L1127.16,663.37 L1127.45,661.56 L1127.74,659.76 L1128.04,657.95 L1128.34,656.15 L1128.65,654.34 L1128.97,652.54 L1129.29,650.73 L1129.61,648.93 L1129.95,647.12 L1130.28,645.32 L1130.63,643.51 L1130.98,641.71 L1131.34,639.91 L1131.71,638.1 L1132.08,636.3 L1132.46,634.5 L1132.85,632.7 L1133.25,630.9 L1133.65,629.09 L1134.06,627.29 L1134.49,625.49 L1134.92,623.69 L1135.36,621.89 L1135.8,620.09 L1136.26,618.29 L1136.73,616.49 L1137.21,614.69 L1137.69,612.89 L1138.19,611.09 L1138.7,609.3 L1139.23,607.51 L1139.77,605.72 L1140.33,603.95 L1140.91,602.18 L1141.52,600.43 L1142.14,598.68 L1142.8,596.95 L1143.48,595.24 L1144.19,593.54 L1144.93,591.86 L1145.7,590.21 L1146.51,588.57 L1147.35,586.96 L1148.23,585.37 L1149.15,583.81 L1150.12,582.27 L1151.12,580.77 L1152.17,579.31 L1153.27,577.9 L1154.42,576.55 L1155.61,575.27 L1156.86,574.07 L1158.17,572.96 L1159.53,571.95 L1160.94,571.05 L1162.42,570.27 L1163.95,569.6 L1165.52,569.05 L1167.15,568.62 L1168.81,568.29 L1170.51,568.08 L1172.24,567.98 L1173.99,567.98 L1175.77,568.08 L1177.56,568.27 L1179.37,568.53 L1181.18,568.86 L1183,569.25 L1184.82,569.68 L1186.63,570.16 L1188.43,570.66 L1190.22,571.19 L1192.01,571.75 L1193.8,572.34 L1195.57,572.94 L1197.34,573.57 L1199.11,574.22 L1200.87,574.88 L1202.62,575.55 L1204.37,576.24 L1206.12,576.93 L1207.86,577.63 L1209.59,578.34 L1211.33,579.04 L1213.06,579.75 L1214.78,580.45 L1216.5,581.15 L1218.22,581.84 L1219.94,582.52 L1221.66,583.19 L1223.37,583.85 L1225.08,584.49 L1226.79,585.11 L1228.5,585.72 L1230.21,586.31 L1231.91,586.9 L1233.62,587.47 L1235.32,588.04 L1237.03,588.61 L1238.73,589.17 L1240.44,589.73 L1242.15,590.29 L1243.86,590.86 L1245.57,591.43 L1247.28,592.01 L1248.99,592.59 L1250.71,593.19 L1252.42,593.8 L1254.14,594.41 L1255.87,595.03 L1257.59,595.64 L1259.32,596.26 L1261.05,596.86 L1262.79,597.46 L1264.53,598.05 L1266.27,598.62 L1268.02,599.18 L1269.78,599.71 L1271.54,600.22 L1273.3,600.7 L1275.07,601.16 L1276.85,601.58 L1278.63,601.96 L1280.42,602.31 L1282.22,602.62 L1284.02,602.88 L1285.83,603.09 L1287.65,603.26 L1289.47,603.37 L1291.31,603.42 L1293.15,603.42 L1295,603.35 L1296.66,603.3 L1297.64,603.3 L1298.61,603.3 L1299.59,603.3 L1300.56,603.3 L1301.54,603.3 L1302.52,603.3 L1303.49,603.3 L1304.47,603.3 L1305.44,603.3 L1306.42,603.3 L1307.39,603.3 L1308.37,603.3 L1309.34,603.3 L1310.32,603.3 L1311.3,603.3 L1312.27,603.3 L1313.25,603.3 L1314.22,603.3 L1315.2,603.3 L1316.17,603.3 L1317.15,603.3 L1318.12,603.3 L1319.1,603.3 L1320.07,603.3 L1321.05,603.3 L1322.03,603.3 L1323,603.3 L1323.98,603.3 L1324.95,603.3 L1325.93,603.3 L1326.9,603.3 L1327.88,603.3 L1328.85,603.3 L1329.83,603.3 L1330.81,603.3 L1331.78,603.3 L1332.76,603.3 L1333.73,603.3 L1334.71,603.3 L1335.68,603.3 L1336.66,603.3 L1337.63,603.3 L1338.61,603.3 L1339.59,603.3 L1340.56,603.3 L1341.54,603.3 L1342.51,603.3 L1343.49,603.29 L1344.46,603.29 L1345.44,603.29 L1346.41,603.29 L1347.39,603.29 L1348.37,603.29 L1349.34,603.29 L1350.32,603.29 L1351.29,603.29 L1352.27,603.29 L1353.24,603.29 L1354.22,603.29 L1355.19,603.29 L1356.17,603.29 L1357.15,603.29 L1358.12,603.29 L1359.1,603.29 L1360.07,603.29 L1361.05,603.29 L1362.02,603.29 L1363,603.29 L1363.97,603.29 L1364.95,603.29 L1365.93,603.29 L1366.9,603.29 L1367.88,603.29 L1368.85,603.29 L1369.83,603.29 L1370.8,603.29 L1371.78,603.28 L1372.75,603.28 L1373.73,603.28 L1374.71,603.28 L1375.68,603.28 L1376.66,603.28 L1377.63,603.28 L1378.61,603.28 L1379.58,603.28 L1380.56,603.28 L1381.53,603.27 L1382.51,603.27 L1383.48,603.27 L1384.46,603.27 L1385.44,603.27 L1386.41,603.26 L1387.39,603.26 L1388.36,603.26 L1389.34,603.26 L1390.31,603.26 L1391.29,603.25 L1392.26,603.25 L1393.24,603.25 L1394.22,603.24 L1395.19,603.24 L1396.17,603.24 L1397.14,603.23 L1398.12,603.23 L1399.09,603.22 L1400.07,603.22 L1401.04,603.21 L1402.02,603.21 L1403,603.2 L1403.97,603.19 L1404.95,603.19 L1405.92,603.18 L1406.9,603.17 L1407.87,603.17 L1408.85,603.16 L1409.82,603.15 L1410.8,603.14 L1411.78,603.13 L1412.75,603.12 L1413.73,603.1 L1414.7,603.09 L1415.68,603.08 L1416.65,603.06 L1417.63,603.05 L1418.6,603.03 L1419.58,603.01 L1420.56,602.99 L1421.53,602.97 L1422.51,602.95 L1423.48,602.93 L1424.46,602.9 L1425.43,602.88 L1426.41,602.85 L1427.38,602.82 L1428.36,602.79 L1429.34,602.76 L1430.31,602.72 L1431.29,602.68 L1432.26,602.64 L1433.24,602.6 L1434.21,602.55 L1435.19,602.5 L1436.16,602.45 L1437.14,602.39 L1438.12,602.33 L1439.09,602.27 L1440.07,602.2 L1441.04,602.13 L1442.02,602.05 L1442.99,601.96 L1443.97,601.88 L1444.94,601.78 L1445.92,601.68 L1446.9,601.57 L1447.87,601.46 L1448.85,601.34 L1449.82,601.21 L1450.8,601.07 L1451.77,600.92 L1452.75,600.76 L1453.72,600.6 L1454.7,600.42 L1455.67,600.23 L1456.65,600.02 L1457.63,599.8 L1458.6,599.57 L1459.58,599.32 L1460.55,599.06 L1461.53,598.78 L1462.5,598.48 L1463.48,598.16 L1464.45,597.82 L1465.43,597.46 L1466.41,597.07 L1467.38,596.65 L1468.36,596.21 L1469.33,595.74 L1470.31,595.24 L1471.28,594.71 L1472.26,594.14 L1473.23,593.53 L1474.21,592.88 L1475.19,592.19 L1476.16,591.45 L1477.14,590.67 L1478.11,589.83 L1479.09,588.93 L1480.06,587.98 L1481.04,586.96 L1482.01,585.88 L1482.99,584.72 L1483.97,583.49 L1484.94,582.18 L1485.92,580.77 L1486.89,579.28 L1487.87,577.69 L1488.84,575.99 L1489.82,574.17 L1490.79,572.24 L1491.77,570.18 L1492.75,567.98 L1493.72,565.63 L1494.7,563.13 L1495.67,560.47 L1496.65,557.63 L1497.62,554.59 L1498.6,551.36 L1499.57,547.92 L1500.55,544.24 L1501.53,540.32 L1502.5,536.14 L1503.48,531.68 L1504.45,526.93 L1505.43,521.86 L1506.4,516.45 L1507.38,510.69 L1508.35,504.54 L1509.33,497.99 L1510.31,491 L1511.28,483.54 L1512.26,475.59 L1513.23,467.12 L1514.21,458.08 L1515.18,448.44 L1516.16,438.16 L1517.13,427.2 L1518.11,415.51 L1519.09,403.04 L1520.06,389.75 L1521.04,375.58 L1522.01,360.46 L1522.99,344.34 L1523.96,327.16 L1524.94,308.83 L1525.91,289.28 L1526.89,268.44 L1527.86,246.21 L1528.84,222.51" fill="none" stroke="#00ff00" stroke-width="12"/>
<path d="M1071.35,1150 L1071.47,1147.28 L1071.59,1144.55 L1071.72,1141.83 L1071.84,1139.11 L1071.97,1136.38 L1072.09,1133.66 L1072.22,1130.93 L1072.34,1128.21 L1072.47,1125.49 L1072.59,1122.76 L1072.72,1120.04 L1072.85,1117.32 L1072.98,1114.59 L1073.11,1111.87 L1073.24,1109.15 L1073.37,1106.42 L1073.5,1103.7 L1073.63,1100.97 L1073.76,1098.25 L1073.89,1095.53 L1074.02,1092.8 L1074.15,1090.08 L1074.29,1087.36 L1074.42,1084.63 L1074.55,1081.91 L1074.69,1079.19 L1074.83,1076.46 L1074.96,1073.74 L1075.1,1071.02 L1075.24,1068.29 L1075.37,1065.57 L1075.51,1062.84 L1075.65,1060.12 L1075.79,1057.4 L1075.93,1054.67 L1076.07,1051.95 L1076.22,1049.23 L1076.36,1046.5 L1076.5,1043.78 L1076.65,1041.06 L1076.79,1038.33 L1076.94,1035.61 L1077.08,1032.88 L1077.23,1030.16 L1077.38,1027.44 L1077.52,1024.71 L1077.67,1021.99 L1077.82,1019.27 L1077.97,1016.54 L1078.13,1013.82 L1078.28,1011.1 L1078.43,1008.37 L1078.59,1005.65 L1078.74,1002.92 L1078.9,1000.2 L1079.05,997.48 L1079.21,994.75 L1079.37,992.03 L1079.53,989.31 L1079.69,986.58 L1079.85,983.86 L1080.01,981.14 L1080.17,978.41 L1080.34,975.69 L1080.5,972.96 L1080.67,970.24 L1080.83,967.52 L1081,964.79 L1081.17,962.07 L1081.34,959.35 L1081.51,956.62 L1081.68,953.9 L1081.85,951.18 L1082.03,948.45 L1082.2,945.73 L1082.38,943.01 L1082.56,940.28 L1082.73,937.56 L1082.91,934.83 L1083.09,932.11 L1083.27,929.39 L1083.45,926.66 L1083.64,923.94 L1083.82,921.22 L1084.01,918.49 L1084.19,915.77 L1084.38,913.05 L1084.57,910.32 L1084.76,907.6 L1084.95,904.87 L1085.14,902.15 L1085.34,899.43 L1085.53,896.7 L1085.73,893.98 L1085.92,891.26 L1086.12,888.53 L1086.32,885.81 L1086.52,883.09 L1086.72,880.36 L1086.93,877.64 L1087.13,874.91 L1087.34,872.19 L1087.55,869.47 L1087.75,866.74 L1087.96,864.02 L1088.17,861.3 L1088.39,858.57 L1088.6,855.85 L1088.82,853.13 L1089.03,850.4 L1089.25,847.68 L1089.47,844.95 L1089.69,842.23 L1089.91,839.51 L1090.13,836.78 L1090.36,834.06 L1090.58,831.34 L1090.81,828.61 L1091.04,825.89 L1091.27,823.17 L1091.5,820.44 L1091.74,817.72 L1091.97,814.99 L1092.21,812.27 L1092.45,809.55 L1092.7,806.82 L1092.94,804.1 L1093.19,801.38 L1093.44,798.65 L1093.7,795.93 L1093.96,793.21 L1094.22,790.48 L1094.49,787.76 L1094.76,785.04 L1095.04,782.31 L1095.32,779.59 L1095.6,776.86 L1095.89,774.14 L1096.19,771.42 L1096.49,768.69 L1096.79,765.97 L1097.1,763.25 L1097.42,760.52 L1097.74,757.8 L1098.07,755.08 L1098.41,752.35 L1098.75,749.63 L1099.1,746.9 L1099.46,744.18 L1099.82,741.46 L1100.19,738.73 L1100.57,736.01 L1100.95,733.29 L1101.34,730.56 L1101.75,727.84 L1102.15,725.12 L1102.57,722.39 L1103,719.67 L1103.43,716.94 L1103.88,714.22 L1104.33,711.5 L1104.79,708.77 L1105.26,706.05 L1105.75,703.33 L1106.24,700.6 L1106.74,697.88 L1107.25,695.16 L1107.77,692.43 L1108.31,689.71 L1108.85,686.98 L1109.4,684.26 L1109.97,681.54 L1110.55,678.81 L1111.14,676.09 L1111.74,673.37 L1112.35,670.64 L1112.97,667.92 L1113.61,665.2 L1114.26,662.47 L1114.92,659.75 L1115.6,657.03 L1116.29,654.3 L1116.99,651.58 L1117.7,648.85 L1118.43,646.13 L1119.17,643.41 L1119.93,640.68 L1120.7,637.96 L1121.48,635.24 L1122.28,632.51 L1123.09,629.79 L1123.92,627.07 L1124.76,624.34 L1125.62,621.62 L1126.5,618.89 L1127.39,616.17 L1128.29,613.45 L1129.21,610.72 L1130.15,608 L1136.5,603.3 L1139.6,603.3 L1140.58,603.3 L1141.55,603.3 L1142.53,603.3 L1143.5,603.3 L1144.48,603.3 L1145.45,603.3 L1146.43,603.3 L1147.4,603.3 L1148.38,603.3 L1149.36,603.3 L1150.33,603.3 L1151.31,603.3 L1152.28,603.3 L1153.26,603.3 L1154.23,603.3 L1155.21,603.3 L1156.18,603.3 L1157.16,603.3 L1158.14,603.3 L1159.11,603.3 L1160.09,603.3 L1161.06,603.3 L1162.04,603.3 L1163.01,603.3 L1163.99,603.3 L1164.96,603.3 L1165.94,603.3 L1166.92,603.3 L1167.89,603.3 L1168.87,603.3 L1169.84,603.3 L1170.82,603.3 L1171.79,603.3 L1172.77,603.3 L1173.74,603.3 L1174.72,603.3 L1175.69,603.3 L1176.67,603.3 L1177.65,603.3 L1178.62,603.3 L1179.6,603.3 L1180.57,603.3 L1181.55,603.3 L1182.52,603.3 L1183.5,603.3 L1184.47,603.3 L1185.45,603.3 L1186.43,603.3 L1187.4,603.3 L1188.38,603.3 L1189.35,603.3 L1190.33,603.3 L1191.3,603.3 L1192.28,603.3 L1193.25,603.3 L1194.23,603.3 L1195.21,603.3 L1196.18,603.3 L1197.16,603.3 L1198.13,603.3 L1199.11,603.3 L1200.08,603.3 L1201.06,603.3 L1202.03,603.3 L1203.01,603.3 L1203.99,603.3 L1204.96,603.3 L1205.94,603.3 L1206.91,603.3 L1207.89,603.3 L1208.86,603.3 L1209.84,603.3 L1210.81,603.3 L1211.79,603.3 L1212.77,603.3 L1213.74,603.3 L1214.72,603.3 L1215.69,603.3 L1216.67,603.3 L1217.64,603.3 L1218.62,603.3 L1219.59,603.3 L1220.57,603.3 L1221.55,603.3 L1222.52,603.3 L1223.5,603.3 L1224.47,603.3 L1225.45,603.3 L1226.42,603.3 L1227.4,603.3 L1228.37,603.3 L1229.35,603.3 L1230.33,603.3 L1231.3,603.3 L1232.28,603.3 L1233.25,603.3 L1234.23,603.3 L1235.2,603.3 L1236.18,603.3 L1237.15,603.3 L1238.13,603.3 L1239.11,603.3 L1240.08,603.3 L1241.06,603.3 L1242.03,603.3 L1243.01,603.3 L1243.98,603.3 L1244.96,603.3 L1245.93,603.3 L1246.91,603.3 L1247.88,603.3 L1248.86,603.3 L1249.84,603.3 L1250.81,603.3 L1251.79,603.3 L1252.76,603.3 L1253.74,603.3 L1254.71,603.3 L1255.69,603.3 L1256.66,603.3 L1257.64,603.3 L1258.62,603.3 L1259.59,603.3 L1260.57,603.3 L1261.54,603.3 L1262.52,603.3 L1263.49,603.3 L1264.47,603.3 L1265.44,603.3 L1266.42,603.3 L1267.4,603.3 L1268.37,603.3 L1269.35,603.3 L1270.32,603.3 L1271.3,603.3 L1272.27,603.3 L1273.25,603.3 L1274.22,603.3 L1275.2,603.3 L1276.18,603.3 L1277.15,603.3 L1278.13,603.3 L1279.1,603.3 L1280.08,603.3 L1281.05,603.3 L1282.03,603.3 L1283,603.3 L1283.98,603.3 L1284.96,603.3 L1285.93,603.3 L1286.91,603.3 L1287.88,603.3 L1288.86,603.3 L1289.83,603.3 L1290.81,603.3 L1291.78,603.3 L1292.76,603.3 L1293.74,603.3 L1294.71,603.3 L1295.69,603.3 L1296.66,603.3 L1297.64,603.3 L1298.61,603.3 L1299.59,603.3 L1300.56,603.3 L1301.54,603.3 L1302.52,603.3 L1303.49,603.3 L1304.47,603.3 L1305.44,603.3 L1306.42,603.3 L1307.39,603.3 L1308.37,603.3 L1309.34,603.3 L1310.32,603.3 L1311.3,603.3 L1312.27,603.3 L1313.25,603.3 L1314.22,603.3 L1315.2,603.3 L1316.17,603.3 L1317.15,603.3 L1318.12,603.3 L1319.1,603.3 L1320.07,603.3 L1321.05,603.3 L1322.03,603.3 L1323,603.3 L1323.98,603.3 L1324.95,603.3 L1325.93,603.3 L1326.9,603.3 L1327.88,603.3 L1328.85,603.3 L1329.83,603.3 L1330.81,603.3 L1331.78,603.3 L1332.76,603.3 L1333.73,603.3 L1334.71,603.3 L1335.68,603.3 L1336.66,603.3 L1337.63,603.3 L1338.61,603.3 L1339.59,603.3 L1340.56,603.3 L1341.54,603.3 L1342.51,603.3 L1343.49,603.29 L1344.46,603.29 L1345.44,603.29 L1346.41,603.29 L1347.39,603.29 L1348.37,603.29 L1349.34,603.29 L1350.32,603.29 L1351.29,603.29 L1352.27,603.29 L1353.24,603.29 L1354.22,603.29 L1355.19,603.29 L1356.17,603.29 L1357.15,603.29 L1358.12,603.29 L1359.1,603.29 L1360.07,603.29 L1361.05,603.29 L1362.02,603.29 L1363,603.29 L1363.97,603.29 L1364.95,603.29 L1365.93,603.29 L1366.9,603.29 L1367.88,603.29 L1368.85,603.29 L1369.83,603.29 L1370.8,603.29 L1371.78,603.28 L1372.75,603.28 L1373.73,603.28 L1374.71,603.28 L1375.68,603.28 L1376.66,603.28 L1377.63,603.28 L1378.61,603.28 L1379.58,603.28 L1380.56,603.28 L1381.53,603.27 L1382.51,603.27 L1383.48,603.27 L1384.46,603.27 L1385.44,603.27 L1386.41,603.26 L1387.39,603.26 L1388.36,603.26 L1389.34,603.26 L1390.31,603.26 L1391.29,603.25 L1392.26,603.25 L1393.24,603.25 L1394.22,603.24 L1395.19,603.24 L1396.17,603.24 L1397.14,603.23 L1398.12,603.23 L1399.09,603.22 L1400.07,603.22 L1401.04,603.21 L1402.02,603.21 L1403,603.2 L1403.97,603.19 L1404.95,603.19 L1405.92,603.18 L1406.9,603.17 L1407.87,603.17 L1408.85,603.16 L1409.82,603.15 L1410.8,603.14 L1411.78,603.13 L1412.75,603.12 L1413.73,603.1 L1414.7,603.09 L1415.68,603.08 L1416.65,603.06 L1417.63,603.05 L1418.6,603.03 L1419.58,603.01 L1420.56,602.99 L1421.53,602.97 L1422.51,602.95 L1423.48,602.93 L1424.46,602.9 L1425.43,602.88 L1426.41,602.85 L1427.38,602.82 L1428.36,602.79 L1429.34,602.76 L1430.31,602.72 L1431.29,602.68 L1432.26,602.64 L1433.24,602.6 L1434.21,602.55 L1435.19,602.5 L1436.16,602.45 L1437.14,602.39 L1438.12,602.33 L1439.09,602.27 L1440.07,602.2 L1441.04,602.13 L1442.02,602.05 L1442.99,601.96 L1443.97,601.88 L1444.94,601.78 L1445.92,601.68 L1446.9,601.57 L1447.87,601.46 L1448.85,601.34 L1449.82,601.21 L1450.8,601.07 L1451.77,600.92 L1452.75,600.76 L1453.72,600.6 L1454.7,600.42 L1455.67,600.23 L1456.65,600.02 L1457.63,599.8 L1458.6,599.57 L1459.58,599.32 L1460.55,599.06 L1461.53,598.78 L1462.5,598.48 L1463.48,598.16 L1464.45,597.82 L1465.43,597.46 L1466.41,597.07 L1467.38,596.65 L1468.36,596.21 L1469.33,595.74 L1470.31,595.24 L1471.28,594.71 L1472.26,594.14 L1473.23,593.53 L1474.21,592.88 L1475.19,592.19 L1476.16,591.45 L1477.14,590.67 L1478.11,589.83 L1479.09,588.93 L1480.06,587.98 L1481.04,586.96 L1482.01,585.88 L1482.99,584.72 L1483.97,583.49 L1484.94,582.18 L1485.92,580.77 L1486.89,579.28 L1487.87,577.69 L1488.84,575.99 L1489.82,574.17 L1490.79,572.24 L1491.77,570.18 L1492.75,567.98 L1493.72,565.63 L1494.7,563.13 L1495.67,560.47 L1496.65,557.63 L1497.62,554.59 L1498.6,551.36 L1499.57,547.92 L1500.55,544.24 L1501.53,540.32 L1502.5,536.14 L1503.48,531.68 L1504.45,526.93 L1505.43,521.86 L1506.4,516.45 L1507.38,510.69 L1508.35,504.54 L1509.33,497.99 L1510.31,491 L1511.28,483.54 L1512.26,475.59 L1513.23,467.12 L1514.21,458.08 L1515.18,448.44 L1516.16,438.16 L1517.13,427.2 L1518.11,415.51 L1519.09,403.04 L1520.06,389.75 L1521.04,375.58 L1522.01,360.46 L1522.99,344.34 L1523.96,327.16 L1524.94,308.83 L1525.91,289.28 L1526.89,268.44 L1527.86,246.21 L1528.84,222.51" fill="none" stroke="#000" stroke-width="12" stroke-linejoin="miter"/>
<path d="M1141,603.3 L1138.6,603.3 L1132.92,609.5 L1131.91,612.22 L1130.94,614.93 L1129.99,617.65 L1129.06,620.36 L1128.16,623.08 L1127.28,625.8 L1126.42,628.51 L1125.59,631.23 L1124.78,633.94 L1123.99,636.66 L1123.22,639.38 L1122.48,642.09 L1121.75,644.81 L1121.04,647.53 L1120.36,650.24 L1119.69,652.96 L1119.04,655.67 L1118.41,658.39 L1117.79,661.11 L1117.2,663.82 L1116.62,666.54 L1116.05,669.25 L1115.51,671.97 L1114.98,674.69 L1114.46,677.4 L1113.97,680.12 L1113.48,682.83 L1113.01,685.55 L1112.56,688.27 L1112.11,690.98 L1111.69,693.7 L1111.27,696.41 L1110.87,699.13 L1110.47,701.85 L1110.1,704.56 L1109.73,707.28 L1109.37,709.99 L1109.02,712.71 L1108.69,715.43 L1108.36,718.14 L1108.04,720.86 L1107.74,723.58 L1107.44,726.29 L1107.14,729.01 L1106.86,731.72 L1106.59,734.44 L1106.32,737.16 L1106.06,739.87 L1105.8,742.59 L1105.55,745.3 L1105.31,748.02 L1105.07,750.74 L1104.83,753.45 L1104.61,756.17 L1104.38,758.88 L1104.16,761.6 L1103.94,764.32 L1103.72,767.03 L1103.51,769.75 L1103.3,772.46 L1103.09,775.18 L1102.88,777.9 L1102.68,780.61 L1102.47,783.33 L1102.27,786.05 L1102.06,788.76 L1101.85,791.48 L1101.65,794.19 L1101.44,796.91 L1101.24,799.63 L1101.03,802.34 L1100.83,805.06 L1100.62,807.77 L1100.41,810.49 L1100.21,813.21 L1100,815.92 L1099.8,818.64 L1099.6,821.35 L1099.39,824.07 L1099.19,826.79 L1098.98,829.5 L1098.78,832.22 L1098.58,834.93 L1098.37,837.65 L1098.17,840.37 L1097.97,843.08 L1097.77,845.8 L1097.56,848.52 L1097.36,851.23 L1097.16,853.95 L1096.96,856.66 L1096.76,859.38 L1096.56,862.1 L1096.37,864.81 L1096.17,867.53 L1095.97,870.24 L1095.77,872.96 L1095.58,875.68 L1095.38,878.39 L1095.19,881.11 L1094.99,883.82 L1094.8,886.54 L1094.6,889.26 L1094.41,891.97 L1094.22,894.69 L1094.03,897.4 L1093.84,900.12 L1093.65,902.84 L1093.46,905.55 L1093.27,908.27 L1093.08,910.98 L1092.9,913.7 L1092.71,916.42 L1092.53,919.13 L1092.34,921.85 L1092.16,924.57 L1091.98,927.28 L1091.8,930 L1091.62,932.71 L1091.44,935.43 L1091.26,938.15 L1091.09,940.86 L1090.91,943.58 L1090.74,946.29 L1090.56,949.01 L1090.39,951.73 L1090.22,954.44 L1090.05,957.16 L1089.88,959.87 L1089.71,962.59 L1089.55,965.31 L1089.38,968.02 L1089.22,970.74 L1089.05,973.45 L1088.89,976.17 L1088.73,978.89 L1088.57,981.6 L1088.42,984.32 L1088.26,987.04 L1088.11,989.75 L1087.95,992.47 L1087.8,995.18 L1087.65,997.9 L1087.5,1000.62 L1087.35,1003.33 L1087.21,1006.05 L1087.06,1008.76 L1086.92,1011.48 L1086.78,1014.2 L1086.64,1016.91 L1086.5,1019.63 L1086.36,1022.34 L1086.23,1025.06 L1086.1,1027.78 L1085.96,1030.49 L1085.83,1033.21 L1085.71,1035.92 L1085.58,1038.64 L1085.45,1041.36 L1085.33,1044.07 L1085.21,1046.79 L1085.09,1049.51 L1084.97,1052.22 L1084.86,1054.94 L1084.74,1057.65 L1084.63,1060.37 L1084.52,1063.09 L1084.41,1065.8 L1084.31,1068.52 L1084.2,1071.23 L1084.1,1073.95 L1084,1076.67 L1083.9,1079.38 L1083.8,1082.1 L1083.71,1084.81 L1083.62,1087.53 L1083.53,1090.25 L1083.44,1092.96 L1083.35,1095.68 L1083.27,1098.39 L1083.19,1101.11 L1083.11,1103.83 L1083.03,1106.54 L1082.95,1109.26 L1082.88,1111.97 L1082.81,1114.69 L1082.74,1117.41 L1082.68,1120.12 L1082.61,1122.84 L1082.55,1125.56 L1082.49,1128.27 L1082.43,1130.99 L1082.38,1133.7 L1082.33,1136.42 L1082.28,1139.14 L1082.23,1141.85 L1082.19,1144.57 L1082.14,1147.28 L1082.1,1150" fill="none" stroke="#ff0000" stroke-width="12" stroke-dasharray="44.6 38.6" stroke-linejoin="miter"/>
<path d="M1141.55,603.3 L1142.53,603.3 L1143.5,603.3 L1144.48,603.3 L1145.45,603.3 L1146.43,603.3 L1147.4,603.3 L1148.38,603.3 L1149.36,603.3 L1150.33,603.3 L1151.31,603.3 L1152.28,603.3 L1153.26,603.3 L1154.23,603.3 L1155.21,603.3 L1156.18,603.3 L1157.16,603.3 L1158.14,603.3 L1159.11,603.3 L1160.09,603.3 L1161.06,603.3 L1162.04,603.3 L1163.01,603.3 L1163.99,603.3 L1164.96,603.3 L1165.94,603.3 L1166.92,603.3 L1167.89,603.3 L1168.87,603.3 L1169.84,603.3 L1170.82,603.3 L1171.79,603.3 L1172.77,603.3 L1173.74,603.3 L1174.72,603.3 L1175.69,603.3 L1176.67,603.3 L1177.65,603.3 L1178.62,603.3 L1179.6,603.3 L1180.57,603.3 L1181.55,603.3 L1182.52,603.3 L1183.5,603.3 L1184.47,603.3 L1185.45,603.3 L1186.43,603.3 L1187.4,603.3 L1188.38,603.3 L1189.35,603.3 L1190.33,603.3 L1191.3,603.3 L1192.28,603.3 L1193.25,603.3 L1194.23,603.3 L1195.21,603.3 L1196.18,603.3 L1197.16,603.3 L1198.13,603.3 L1199.11,603.3 L1200.08,603.3 L1201.06,603.3 L1202.03,603.3 L1203.01,603.3 L1203.99,603.3 L1204.96,603.3 L1205.94,603.3 L1206.91,603.3 L1207.89,603.3 L1208.86,603.3 L1209.84,603.3 L1210.81,603.3 L1211.79,603.3 L1212.77,603.3 L1213.74,603.3 L1214.72,603.3 L1215.69,603.3 L1216.67,603.3 L1217.64,603.3 L1218.62,603.3 L1219.59,603.3 L1220.57,603.3 L1221.55,603.3 L1222.52,603.3 L1223.5,603.3 L1224.47,603.3 L1225.45,603.3 L1226.42,603.3 L1227.4,603.3 L1228.37,603.3 L1229.35,603.3 L1230.33,603.3 L1231.3,603.3 L1232.28,603.3 L1233.25,603.3 L1234.23,603.3 L1235.2,603.3 L1236.18,603.3 L1237.15,603.3 L1238.13,603.3 L1239.11,603.3 L1240.08,603.3 L1241.06,603.3 L1242.03,603.3 L1243.01,603.3 L1243.98,603.3 L1244.96,603.3 L1245.93,603.3 L1246.91,603.3 L1247.88,603.3 L1248.86,603.3 L1249.84,603.3 L1250.81,603.3 L1251.79,603.3 L1252.76,603.3 L1253.74,603.3 L1254.71,603.3 L1255.69,603.3 L1256.66,603.3 L1257.64,603.3 L1258.62,603.3 L1259.59,603.3 L1260.57,603.3 L1261.54,603.3 L1262.52,603.3 L1263.49,603.3 L1264.47,603.3 L1265.44,603.3 L1266.42,603.3 L1267.4,603.3 L1268.37,603.3 L1269.35,603.3 L1270.32,603.3 L1271.3,603.3 L1272.27,603.3 L1273.25,603.3 L1274.22,603.3 L1275.2,603.3 L1276.18,603.3 L1277.15,603.3 L1278.13,603.3 L1279.1,603.3 L1280.08,603.3 L1281.05,603.3 L1282.03,603.3 L1283,603.3 L1283.98,603.3 L1284.96,603.3 L1285.93,603.3 L1286.91,603.3 L1287.88,603.3 L1288.86,603.3 L1289.83,603.3 L1290.81,603.3 L1291.78,603.3 L1292.76,603.3 L1293.74,603.3 L1294.71,603.3 L1295.69,603.3 L1296.66,603.3 L1297.64,603.3 L1298.61,603.3 L1299.59,603.3 L1300.56,603.3 L1301.54,603.3 L1302.52,603.3 L1303.49,603.3 L1304.47,603.3 L1305.44,603.3 L1306.42,603.3 L1307.39,603.3 L1308.37,603.3 L1309.34,603.3 L1310.32,603.3 L1311.3,603.3 L1312.27,603.3 L1313.25,603.3 L1314.22,603.3 L1315.2,603.3 L1316.17,603.3 L1317.15,603.3 L1318.12,603.3 L1319.1,603.3 L1320.07,603.3 L1321.05,603.3 L1322.03,603.3 L1323,603.3 L1323.98,603.3 L1324.95,603.3 L1325.93,603.3 L1326.9,603.3 L1327.88,603.3 L1328.85,603.3 L1329.83,603.3 L1330.81,603.3 L1331.78,603.3 L1332.76,603.3 L1333.73,603.3 L1334.71,603.3 L1335.68,603.3 L1336.66,603.3 L1337.63,603.3 L1338.61,603.3 L1339.59,603.3 L1340.56,603.3 L1341.54,603.3 L1342.51,603.3 L1343.49,603.29 L1344.46,603.29 L1345.44,603.29 L1346.41,603.29 L1347.39,603.29 L1348.37,603.29 L1349.34,603.29 L1350.32,603.29 L1351.29,603.29 L1352.27,603.29 L1353.24,603.29 L1354.22,603.29 L1355.19,603.29 L1356.17,603.29 L1357.15,603.29 L1358.12,603.29 L1359.1,603.29 L1360.07,603.29 L1361.05,603.29 L1362.02,603.29 L1363,603.29 L1363.97,603.29 L1364.95,603.29 L1365.93,603.29 L1366.9,603.29 L1367.88,603.29 L1368.85,603.29 L1369.83,603.29 L1370.8,603.29 L1371.78,603.28 L1372.75,603.28 L1373.73,603.28 L1374.71,603.28 L1375.68,603.28 L1376.66,603.28 L1377.63,603.28 L1378.61,603.28 L1379.58,603.28 L1380.56,603.28 L1381.53,603.27 L1382.51,603.27 L1383.48,603.27 L1384.46,603.27 L1385.44,603.27 L1386.41,603.26 L1387.39,603.26 L1388.36,603.26 L1389.34,603.26 L1390.31,603.26 L1391.29,603.25 L1392.26,603.25 L1393.24,603.25 L1394.22,603.24 L1395.19,603.24 L1396.17,603.24 L1397.14,603.23 L1398.12,603.23 L1399.09,603.22 L1400.07,603.22 L1401.04,603.21 L1402.02,603.21 L1403,603.2 L1403.97,603.19 L1404.95,603.19 L1405.92,603.18 L1406.9,603.17 L1407.87,603.17 L1408.85,603.16 L1409.82,603.15 L1410.8,603.14 L1411.78,603.13 L1412.75,603.12 L1413.73,603.1 L1414.7,603.09 L1415.68,603.08 L1416.65,603.06 L1417.63,603.05 L1418.6,603.03 L1419.58,603.01 L1420.56,602.99 L1421.53,602.97 L1422.51,602.95 L1423.48,602.93 L1424.46,602.9 L1425.43,602.88 L1426.41,602.85 L1427.38,602.82 L1428.36,602.79 L1429.34,602.76 L1430.31,602.72 L1431.29,602.68 L1432.26,602.64 L1433.24,602.6 L1434.21,602.55 L1435.19,602.5 L1436.16,602.45 L1437.14,602.39 L1438.12,602.33 L1439.09,602.27 L1440.07,602.2 L1441.04,602.13 L1442.02,602.05 L1442.99,601.96 L1443.97,601.88 L1444.94,601.78 L1445.92,601.68 L1446.9,601.57 L1447.87,601.46 L1448.85,601.34 L1449.82,601.21 L1450.8,601.07 L1451.77,600.92 L1452.75,600.76 L1453.72,600.6 L1454.7,600.42 L1455.67,600.23 L1456.65,600.02 L1457.63,599.8 L1458.6,599.57 L1459.58,599.32 L1460.55,599.06 L1461.53,598.78 L1462.5,598.48 L1463.48,598.16 L1464.45,597.82 L1465.43,597.46 L1466.41,597.07 L1467.38,596.65 L1468.36,596.21 L1469.33,595.74 L1470.31,595.24 L1471.28,594.71 L1472.26,594.14 L1473.23,593.53 L1474.21,592.88 L1475.19,592.19 L1476.16,591.45 L1477.14,590.67 L1478.11,589.83 L1479.09,588.93 L1480.06,587.98 L1481.04,586.96 L1482.01,585.88 L1482.99,584.72 L1483.97,583.49 L1484.94,582.18 L1485.92,580.77 L1486.89,579.28 L1487.87,577.69 L1488.84,575.99 L1489.82,574.17 L1490.79,572.24 L1491.77,570.18 L1492.75,567.98 L1493.72,565.63 L1494.7,563.13 L1495.67,560.47 L1496.65,557.63 L1497.62,554.59 L1498.6,551.36 L1499.57,547.92 L1500.55,544.24 L1501.53,540.32 L1502.5,536.14 L1503.48,531.68 L1504.45,526.93 L1505.43,521.86 L1506.4,516.45 L1507.38,510.69 L1508.35,504.54 L1509.33,497.99 L1510.31,491 L1511.28,483.54 L1512.26,475.59 L1513.23,467.12 L1514.21,458.08 L1515.18,448.44 L1516.16,438.16 L1517.13,427.2 L1518.11,415.51 L1519.09,403.04 L1520.06,389.75 L1521.04,375.58 L1522.01,360.46 L1522.99,344.34 L1523.96,327.16 L1524.94,308.83 L1525.91,289.28 L1526.89,268.44 L1527.86,246.21 L1528.84,222.51" fill="none" stroke="#ff0000" stroke-width="12" stroke-dasharray="0 37.6 44.7 1.25"/>
</g>
<g id="b-legend">
<rect x="1230.1" y="788.5" width="242.1" height="204.2" fill="#fff" stroke="#222" stroke-width="2.4"/>
<line x1="1472.2" y1="789.7" x2="1472.2" y2="991.5" stroke="#777" stroke-width="2.4"/>
<line x1="1238.8" y1="824" x2="1307.1" y2="824" stroke="#00ff00" stroke-width="12.5"/>
<line x1="1238.8" y1="890.9" x2="1307.1" y2="890.9" stroke="#000" stroke-width="12.5"/>
<line x1="1238.8" y1="956.5" x2="1279.2" y2="956.5" stroke="#ff0000" stroke-width="12.5"/>
<text x="1310.2" y="845.5" font-size="58.5" text-anchor="start">10 nm</text>
<text x="1310.2" y="910.8" font-size="58.5" text-anchor="start">12 nm</text>
<text x="1310.2" y="978.6" font-size="58.5" text-anchor="start">50 nm</text>
</g>
<g id="b-labels">
<text x="1001.5" y="85.6" font-size="64" text-anchor="end">100</text>
<text x="1001.5" y="300.7" font-size="64" text-anchor="end">50</text>
<text x="1001.5" y="515.9" font-size="64" text-anchor="end">0</text>
<text x="1001.5" y="730.6" font-size="64" text-anchor="end">-50</text>
<text x="1001.5" y="946.8" font-size="64" text-anchor="end">-100</text>
<text x="1001.5" y="1162.1" font-size="64" text-anchor="end">-150</text>
<text x="1140.3" y="1215.7" font-size="64" text-anchor="middle">0</text>
<text x="1249.3" y="1215.7" font-size="64" text-anchor="middle">0.2</text>
<text x="1360.4" y="1215.7" font-size="64" text-anchor="middle">0.4</text>
<text x="1473.5" y="1215.7" font-size="64" text-anchor="middle">0.6</text>
<text x="1273.9" y="1295.7" font-size="70" text-anchor="middle" letter-spacing="0.4">Voltage (V)</text>
<text transform="translate(863 777.2) rotate(-90)" font-size="70" text-anchor="start">J<tspan dx="5.5"> (mA/cm</tspan><tspan font-size="52.5" dy="-35">2</tspan><tspan dy="35" dx="4.5">)</tspan></text>
<text x="1079" y="135.8" font-size="70" text-anchor="middle">(b)</text>
</g>
<g id="c-grid">
<line x1="1846" y1="61.8" x2="1846" y2="1125.8" stroke="#c6c6c6" stroke-width="2.3" stroke-dasharray="2.4 5.1" stroke-dashoffset="-3"/>
<line x1="1873.7" y1="61.8" x2="1873.7" y2="1125.8" stroke="#c6c6c6" stroke-width="2.3" stroke-dasharray="2.4 5.1" stroke-dashoffset="-3"/>
<line x1="1901.4" y1="61.8" x2="1901.4" y2="1125.8" stroke="#c6c6c6" stroke-width="2.3" stroke-dasharray="2.4 5.1" stroke-dashoffset="-3"/>
<line x1="1956.8" y1="61.8" x2="1956.8" y2="1125.8" stroke="#c6c6c6" stroke-width="2.3" stroke-dasharray="2.4 5.1" stroke-dashoffset="-3"/>
<line x1="1984.5" y1="61.8" x2="1984.5" y2="1125.8" stroke="#c6c6c6" stroke-width="2.3" stroke-dasharray="2.4 5.1" stroke-dashoffset="-3"/>
<line x1="2012.2" y1="61.8" x2="2012.2" y2="1125.8" stroke="#c6c6c6" stroke-width="2.3" stroke-dasharray="2.4 5.1" stroke-dashoffset="-3"/>
<line x1="2067.6" y1="61.8" x2="2067.6" y2="1125.8" stroke="#c6c6c6" stroke-width="2.3" stroke-dasharray="2.4 5.1" stroke-dashoffset="-3"/>
<line x1="2095.3" y1="61.8" x2="2095.3" y2="1125.8" stroke="#c6c6c6" stroke-width="2.3" stroke-dasharray="2.4 5.1" stroke-dashoffset="-3"/>
<line x1="2123" y1="61.8" x2="2123" y2="1125.8" stroke="#c6c6c6" stroke-width="2.3" stroke-dasharray="2.4 5.1" stroke-dashoffset="-3"/>
<line x1="2178.4" y1="61.8" x2="2178.4" y2="1125.8" stroke="#c6c6c6" stroke-width="2.3" stroke-dasharray="2.4 5.1" stroke-dashoffset="-3"/>
<line x1="2206.1" y1="61.8" x2="2206.1" y2="1125.8" stroke="#c6c6c6" stroke-width="2.3" stroke-dasharray="2.4 5.1" stroke-dashoffset="-3"/>
<line x1="2233.8" y1="61.8" x2="2233.8" y2="1125.8" stroke="#c6c6c6" stroke-width="2.3" stroke-dasharray="2.4 5.1" stroke-dashoffset="-3"/>
<line x1="2289.2" y1="61.8" x2="2289.2" y2="1125.8" stroke="#c6c6c6" stroke-width="2.3" stroke-dasharray="2.4 5.1" stroke-dashoffset="-3"/>
<line x1="1818.7" y1="1083.24" x2="2316.8" y2="1083.24" stroke="#d8d8d8" stroke-width="2.3" stroke-dasharray="2.4 5.1" stroke-dashoffset="-3"/>
<line x1="1818.7" y1="1040.68" x2="2316.8" y2="1040.68" stroke="#d8d8d8" stroke-width="2.3" stroke-dasharray="2.4 5.1" stroke-dashoffset="-3"/>
<line x1="1818.7" y1="998.12" x2="2316.8" y2="998.12" stroke="#d8d8d8" stroke-width="2.3" stroke-dasharray="2.4 5.1" stroke-dashoffset="-3"/>
<line x1="1818.7" y1="955.56" x2="2316.8" y2="955.56" stroke="#d8d8d8" stroke-width="2.3" stroke-dasharray="2.4 5.1" stroke-dashoffset="-3"/>
<line x1="1818.7" y1="870.44" x2="2316.8" y2="870.44" stroke="#d8d8d8" stroke-width="2.3" stroke-dasharray="2.4 5.1" stroke-dashoffset="-3"/>
<line x1="1818.7" y1="827.88" x2="2316.8" y2="827.88" stroke="#d8d8d8" stroke-width="2.3" stroke-dasharray="2.4 5.1" stroke-dashoffset="-3"/>
<line x1="1818.7" y1="785.32" x2="2316.8" y2="785.32" stroke="#d8d8d8" stroke-width="2.3" stroke-dasharray="2.4 5.1" stroke-dashoffset="-3"/>
<line x1="1818.7" y1="742.76" x2="2316.8" y2="742.76" stroke="#d8d8d8" stroke-width="2.3" stroke-dasharray="2.4 5.1" stroke-dashoffset="-3"/>
<line x1="1818.7" y1="657.64" x2="2316.8" y2="657.64" stroke="#d8d8d8" stroke-width="2.3" stroke-dasharray="2.4 5.1" stroke-dashoffset="-3"/>
<line x1="1818.7" y1="615.08" x2="2316.8" y2="615.08" stroke="#d8d8d8" stroke-width="2.3" stroke-dasharray="2.4 5.1" stroke-dashoffset="-3"/>
<line x1="1818.7" y1="572.52" x2="2316.8" y2="572.52" stroke="#d8d8d8" stroke-width="2.3" stroke-dasharray="2.4 5.1" stroke-dashoffset="-3"/>
<line x1="1818.7" y1="529.96" x2="2316.8" y2="529.96" stroke="#d8d8d8" stroke-width="2.3" stroke-dasharray="2.4 5.1" stroke-dashoffset="-3"/>
<line x1="1818.7" y1="444.84" x2="2316.8" y2="444.84" stroke="#d8d8d8" stroke-width="2.3" stroke-dasharray="2.4 5.1" stroke-dashoffset="-3"/>
<line x1="1818.7" y1="402.28" x2="2316.8" y2="402.28" stroke="#d8d8d8" stroke-width="2.3" stroke-dasharray="2.4 5.1" stroke-dashoffset="-3"/>
<line x1="1818.7" y1="359.72" x2="2316.8" y2="359.72" stroke="#d8d8d8" stroke-width="2.3" stroke-dasharray="2.4 5.1" stroke-dashoffset="-3"/>
<line x1="1818.7" y1="317.16" x2="2316.8" y2="317.16" stroke="#d8d8d8" stroke-width="2.3" stroke-dasharray="2.4 5.1" stroke-dashoffset="-3"/>
<line x1="1818.7" y1="232.04" x2="2316.8" y2="232.04" stroke="#d8d8d8" stroke-width="2.3" stroke-dasharray="2.4 5.1" stroke-dashoffset="-3"/>
<line x1="1818.7" y1="189.48" x2="2316.8" y2="189.48" stroke="#d8d8d8" stroke-width="2.3" stroke-dasharray="2.4 5.1" stroke-dashoffset="-3"/>
<line x1="1818.7" y1="146.92" x2="2316.8" y2="146.92" stroke="#d8d8d8" stroke-width="2.3" stroke-dasharray="2.4 5.1" stroke-dashoffset="-3"/>
<line x1="1818.7" y1="104.36" x2="2316.8" y2="104.36" stroke="#d8d8d8" stroke-width="2.3" stroke-dasharray="2.4 5.1" stroke-dashoffset="-3"/>
<line x1="1929.1" y1="61.8" x2="1929.1" y2="1125.8" stroke="#dadada" stroke-width="2.4"/>
<line x1="2039.9" y1="61.8" x2="2039.9" y2="1125.8" stroke="#dadada" stroke-width="2.4"/>
<line x1="2150.7" y1="61.8" x2="2150.7" y2="1125.8" stroke="#dadada" stroke-width="2.4"/>
<line x1="2261.5" y1="61.8" x2="2261.5" y2="1125.8" stroke="#dadada" stroke-width="2.4"/>
<line x1="1818.7" y1="913" x2="2316.8" y2="913" stroke="#dadada" stroke-width="2.4"/>
<line x1="1818.7" y1="700.2" x2="2316.8" y2="700.2" stroke="#dadada" stroke-width="2.4"/>
<line x1="1818.7" y1="487.4" x2="2316.8" y2="487.4" stroke="#dadada" stroke-width="2.4"/>
<line x1="1818.7" y1="274.6" x2="2316.8" y2="274.6" stroke="#dadada" stroke-width="2.4"/>
</g>
<g id="c-frame">
<line x1="1846" y1="1125.8" x2="1846" y2="1120.3" stroke="#222" stroke-width="2.4"/>
<line x1="1846" y1="61.8" x2="1846" y2="67.3" stroke="#222" stroke-width="2.4"/>
<line x1="1873.7" y1="1125.8" x2="1873.7" y2="1120.3" stroke="#222" stroke-width="2.4"/>
<line x1="1873.7" y1="61.8" x2="1873.7" y2="67.3" stroke="#222" stroke-width="2.4"/>
<line x1="1901.4" y1="1125.8" x2="1901.4" y2="1120.3" stroke="#222" stroke-width="2.4"/>
<line x1="1901.4" y1="61.8" x2="1901.4" y2="67.3" stroke="#222" stroke-width="2.4"/>
<line x1="1929.1" y1="1125.8" x2="1929.1" y2="1114.8" stroke="#222" stroke-width="2.4"/>
<line x1="1929.1" y1="61.8" x2="1929.1" y2="72.8" stroke="#222" stroke-width="2.4"/>
<line x1="1956.8" y1="1125.8" x2="1956.8" y2="1120.3" stroke="#222" stroke-width="2.4"/>
<line x1="1956.8" y1="61.8" x2="1956.8" y2="67.3" stroke="#222" stroke-width="2.4"/>
<line x1="1984.5" y1="1125.8" x2="1984.5" y2="1120.3" stroke="#222" stroke-width="2.4"/>
<line x1="1984.5" y1="61.8" x2="1984.5" y2="67.3" stroke="#222" stroke-width="2.4"/>
<line x1="2012.2" y1="1125.8" x2="2012.2" y2="1120.3" stroke="#222" stroke-width="2.4"/>
<line x1="2012.2" y1="61.8" x2="2012.2" y2="67.3" stroke="#222" stroke-width="2.4"/>
<line x1="2039.9" y1="1125.8" x2="2039.9" y2="1114.8" stroke="#222" stroke-width="2.4"/>
<line x1="2039.9" y1="61.8" x2="2039.9" y2="72.8" stroke="#222" stroke-width="2.4"/>
<line x1="2067.6" y1="1125.8" x2="2067.6" y2="1120.3" stroke="#222" stroke-width="2.4"/>
<line x1="2067.6" y1="61.8" x2="2067.6" y2="67.3" stroke="#222" stroke-width="2.4"/>
<line x1="2095.3" y1="1125.8" x2="2095.3" y2="1120.3" stroke="#222" stroke-width="2.4"/>
<line x1="2095.3" y1="61.8" x2="2095.3" y2="67.3" stroke="#222" stroke-width="2.4"/>
<line x1="2123" y1="1125.8" x2="2123" y2="1120.3" stroke="#222" stroke-width="2.4"/>
<line x1="2123" y1="61.8" x2="2123" y2="67.3" stroke="#222" stroke-width="2.4"/>
<line x1="2150.7" y1="1125.8" x2="2150.7" y2="1114.8" stroke="#222" stroke-width="2.4"/>
<line x1="2150.7" y1="61.8" x2="2150.7" y2="72.8" stroke="#222" stroke-width="2.4"/>
<line x1="2178.4" y1="1125.8" x2="2178.4" y2="1120.3" stroke="#222" stroke-width="2.4"/>
<line x1="2178.4" y1="61.8" x2="2178.4" y2="67.3" stroke="#222" stroke-width="2.4"/>
<line x1="2206.1" y1="1125.8" x2="2206.1" y2="1120.3" stroke="#222" stroke-width="2.4"/>
<line x1="2206.1" y1="61.8" x2="2206.1" y2="67.3" stroke="#222" stroke-width="2.4"/>
<line x1="2233.8" y1="1125.8" x2="2233.8" y2="1120.3" stroke="#222" stroke-width="2.4"/>
<line x1="2233.8" y1="61.8" x2="2233.8" y2="67.3" stroke="#222" stroke-width="2.4"/>
<line x1="2261.5" y1="1125.8" x2="2261.5" y2="1114.8" stroke="#222" stroke-width="2.4"/>
<line x1="2261.5" y1="61.8" x2="2261.5" y2="72.8" stroke="#222" stroke-width="2.4"/>
<line x1="2289.2" y1="1125.8" x2="2289.2" y2="1120.3" stroke="#222" stroke-width="2.4"/>
<line x1="2289.2" y1="61.8" x2="2289.2" y2="67.3" stroke="#222" stroke-width="2.4"/>
<line x1="1818.7" y1="1083.24" x2="1823.2" y2="1083.24" stroke="#222" stroke-width="2.4"/>
<line x1="2316.8" y1="1083.24" x2="2312.3" y2="1083.24" stroke="#222" stroke-width="2.4"/>
<line x1="1818.7" y1="1040.68" x2="1823.2" y2="1040.68" stroke="#222" stroke-width="2.4"/>
<line x1="2316.8" y1="1040.68" x2="2312.3" y2="1040.68" stroke="#222" stroke-width="2.4"/>
<line x1="1818.7" y1="998.12" x2="1823.2" y2="998.12" stroke="#222" stroke-width="2.4"/>
<line x1="2316.8" y1="998.12" x2="2312.3" y2="998.12" stroke="#222" stroke-width="2.4"/>
<line x1="1818.7" y1="955.56" x2="1823.2" y2="955.56" stroke="#222" stroke-width="2.4"/>
<line x1="2316.8" y1="955.56" x2="2312.3" y2="955.56" stroke="#222" stroke-width="2.4"/>
<line x1="1818.7" y1="913" x2="1828.2" y2="913" stroke="#222" stroke-width="2.4"/>
<line x1="2316.8" y1="913" x2="2307.3" y2="913" stroke="#222" stroke-width="2.4"/>
<line x1="1818.7" y1="870.44" x2="1823.2" y2="870.44" stroke="#222" stroke-width="2.4"/>
<line x1="2316.8" y1="870.44" x2="2312.3" y2="870.44" stroke="#222" stroke-width="2.4"/>
<line x1="1818.7" y1="827.88" x2="1823.2" y2="827.88" stroke="#222" stroke-width="2.4"/>
<line x1="2316.8" y1="827.88" x2="2312.3" y2="827.88" stroke="#222" stroke-width="2.4"/>
<line x1="1818.7" y1="785.32" x2="1823.2" y2="785.32" stroke="#222" stroke-width="2.4"/>
<line x1="2316.8" y1="785.32" x2="2312.3" y2="785.32" stroke="#222" stroke-width="2.4"/>
<line x1="1818.7" y1="742.76" x2="1823.2" y2="742.76" stroke="#222" stroke-width="2.4"/>
<line x1="2316.8" y1="742.76" x2="2312.3" y2="742.76" stroke="#222" stroke-width="2.4"/>
<line x1="1818.7" y1="700.2" x2="1828.2" y2="700.2" stroke="#222" stroke-width="2.4"/>
<line x1="2316.8" y1="700.2" x2="2307.3" y2="700.2" stroke="#222" stroke-width="2.4"/>
<line x1="1818.7" y1="657.64" x2="1823.2" y2="657.64" stroke="#222" stroke-width="2.4"/>
<line x1="2316.8" y1="657.64" x2="2312.3" y2="657.64" stroke="#222" stroke-width="2.4"/>
<line x1="1818.7" y1="615.08" x2="1823.2" y2="615.08" stroke="#222" stroke-width="2.4"/>
<line x1="2316.8" y1="615.08" x2="2312.3" y2="615.08" stroke="#222" stroke-width="2.4"/>
<line x1="1818.7" y1="572.52" x2="1823.2" y2="572.52" stroke="#222" stroke-width="2.4"/>
<line x1="2316.8" y1="572.52" x2="2312.3" y2="572.52" stroke="#222" stroke-width="2.4"/>
<line x1="1818.7" y1="529.96" x2="1823.2" y2="529.96" stroke="#222" stroke-width="2.4"/>
<line x1="2316.8" y1="529.96" x2="2312.3" y2="529.96" stroke="#222" stroke-width="2.4"/>
<line x1="1818.7" y1="487.4" x2="1828.2" y2="487.4" stroke="#222" stroke-width="2.4"/>
<line x1="2316.8" y1="487.4" x2="2307.3" y2="487.4" stroke="#222" stroke-width="2.4"/>
<line x1="1818.7" y1="444.84" x2="1823.2" y2="444.84" stroke="#222" stroke-width="2.4"/>
<line x1="2316.8" y1="444.84" x2="2312.3" y2="444.84" stroke="#222" stroke-width="2.4"/>
<line x1="1818.7" y1="402.28" x2="1823.2" y2="402.28" stroke="#222" stroke-width="2.4"/>
<line x1="2316.8" y1="402.28" x2="2312.3" y2="402.28" stroke="#222" stroke-width="2.4"/>
<line x1="1818.7" y1="359.72" x2="1823.2" y2="359.72" stroke="#222" stroke-width="2.4"/>
<line x1="2316.8" y1="359.72" x2="2312.3" y2="359.72" stroke="#222" stroke-width="2.4"/>
<line x1="1818.7" y1="317.16" x2="1823.2" y2="317.16" stroke="#222" stroke-width="2.4"/>
<line x1="2316.8" y1="317.16" x2="2312.3" y2="317.16" stroke="#222" stroke-width="2.4"/>
<line x1="1818.7" y1="274.6" x2="1828.2" y2="274.6" stroke="#222" stroke-width="2.4"/>
<line x1="2316.8" y1="274.6" x2="2307.3" y2="274.6" stroke="#222" stroke-width="2.4"/>
<line x1="1818.7" y1="232.04" x2="1823.2" y2="232.04" stroke="#222" stroke-width="2.4"/>
<line x1="2316.8" y1="232.04" x2="2312.3" y2="232.04" stroke="#222" stroke-width="2.4"/>
<line x1="1818.7" y1="189.48" x2="1823.2" y2="189.48" stroke="#222" stroke-width="2.4"/>
<line x1="2316.8" y1="189.48" x2="2312.3" y2="189.48" stroke="#222" stroke-width="2.4"/>
<line x1="1818.7" y1="146.92" x2="1823.2" y2="146.92" stroke="#222" stroke-width="2.4"/>
<line x1="2316.8" y1="146.92" x2="2312.3" y2="146.92" stroke="#222" stroke-width="2.4"/>
<line x1="1818.7" y1="104.36" x2="1823.2" y2="104.36" stroke="#222" stroke-width="2.4"/>
<line x1="2316.8" y1="104.36" x2="2312.3" y2="104.36" stroke="#222" stroke-width="2.4"/>
<line x1="1817.4" y1="61.8" x2="2318.1" y2="61.8" stroke="#444" stroke-width="2.6"/>
<line x1="1817.4" y1="1125.8" x2="2318.1" y2="1125.8" stroke="#000" stroke-width="2.6"/>
<line x1="1818.7" y1="60.5" x2="1818.7" y2="1127.1" stroke="#000" stroke-width="2.6"/>
<line x1="2316.8" y1="60.5" x2="2316.8" y2="1127.1" stroke="#000" stroke-width="2.6"/>
</g>
<clipPath id="clipc"><rect x="1818.7" y="61.8" width="506.1" height="1065.3"/></clipPath>
<g id="c-data" stroke-linejoin="round" clip-path="url(#clipc)">
<path d="M1818.3,597.5 L1929.1,597.5 L1930.07,597.5 L1931.05,597.5 L1932.02,597.5 L1932.99,597.5 L1933.97,597.5 L1934.94,597.5 L1935.92,597.5 L1936.89,597.5 L1937.86,597.5 L1938.84,597.5 L1939.81,597.5 L1940.78,597.5 L1941.76,597.5 L1942.73,597.5 L1943.7,597.5 L1944.68,597.5 L1945.65,597.5 L1946.62,597.5 L1947.6,597.5 L1948.57,597.5 L1949.55,597.5 L1950.52,597.5 L1951.49,597.5 L1952.47,597.5 L1953.44,597.5 L1954.41,597.5 L1955.39,597.5 L1956.36,597.5 L1957.33,597.5 L1958.31,597.5 L1959.28,597.5 L1960.26,597.5 L1961.23,597.5 L1962.2,597.5 L1963.18,597.5 L1964.15,597.5 L1965.12,597.5 L1966.1,597.5 L1967.07,597.5 L1968.04,597.5 L1969.02,597.5 L1969.99,597.5 L1970.96,597.5 L1971.94,597.5 L1972.91,597.5 L1973.89,597.5 L1974.86,597.5 L1975.83,597.5 L1976.81,597.5 L1977.78,597.5 L1978.75,597.5 L1979.73,597.5 L1980.7,597.5 L1981.67,597.5 L1982.65,597.5 L1983.62,597.5 L1984.59,597.5 L1985.57,597.5 L1986.54,597.5 L1987.52,597.5 L1988.49,597.5 L1989.46,597.5 L1990.44,597.5 L1991.41,597.5 L1992.38,597.5 L1993.36,597.5 L1994.33,597.5 L1995.3,597.5 L1996.28,597.5 L1997.25,597.5 L1998.23,597.5 L1999.2,597.5 L2000.17,597.5 L2001.15,597.5 L2002.12,597.5 L2003.09,597.5 L2004.07,597.5 L2005.04,597.5 L2006.01,597.5 L2006.99,597.5 L2007.96,597.5 L2008.93,597.5 L2009.91,597.5 L2010.88,597.5 L2011.86,597.5 L2012.83,597.5 L2013.8,597.5 L2014.78,597.5 L2015.75,597.5 L2016.72,597.5 L2017.7,597.5 L2018.67,597.5 L2019.64,597.5 L2020.62,597.5 L2021.59,597.5 L2022.57,597.5 L2023.54,597.5 L2024.51,597.5 L2025.49,597.5 L2026.46,597.5 L2027.43,597.5 L2028.41,597.5 L2029.38,597.5 L2030.35,597.5 L2031.33,597.5 L2032.3,597.5 L2033.27,597.5 L2034.25,597.5 L2035.22,597.5 L2036.2,597.5 L2037.17,597.5 L2038.14,597.5 L2039.12,597.5 L2040.09,597.5 L2041.06,597.5 L2042.04,597.5 L2043.01,597.5 L2043.98,597.5 L2044.96,597.5 L2045.93,597.5 L2046.91,597.5 L2047.88,597.5 L2048.85,597.5 L2049.83,597.5 L2050.8,597.5 L2051.77,597.5 L2052.75,597.5 L2053.72,597.5 L2054.69,597.5 L2055.67,597.5 L2056.64,597.5 L2057.61,597.5 L2058.59,597.5 L2059.56,597.5 L2060.54,597.5 L2061.51,597.5 L2062.48,597.5 L2063.46,597.5 L2064.43,597.5 L2065.4,597.5 L2066.38,597.5 L2067.35,597.5 L2068.32,597.5 L2069.3,597.5 L2070.27,597.5 L2071.25,597.5 L2072.22,597.5 L2073.19,597.5 L2074.17,597.5 L2075.14,597.5 L2076.11,597.5 L2077.09,597.5 L2078.06,597.5 L2079.03,597.5 L2080.01,597.5 L2080.98,597.5 L2081.95,597.5 L2082.93,597.5 L2083.9,597.5 L2084.88,597.5 L2085.85,597.5 L2086.82,597.5 L2087.8,597.5 L2088.77,597.5 L2089.74,597.5 L2090.72,597.5 L2091.69,597.5 L2092.66,597.5 L2093.64,597.5 L2094.61,597.5 L2095.58,597.5 L2096.56,597.5 L2097.53,597.5 L2098.51,597.5 L2099.48,597.5 L2100.45,597.5 L2101.43,597.5 L2102.4,597.5 L2103.37,597.5 L2104.35,597.5 L2105.32,597.5 L2106.29,597.5 L2107.27,597.5 L2108.24,597.5 L2109.22,597.5 L2110.19,597.5 L2111.16,597.5 L2112.14,597.5 L2113.11,597.5 L2114.08,597.5 L2115.06,597.5 L2116.03,597.5 L2117,597.5 L2117.98,597.5 L2118.95,597.5 L2119.92,597.5 L2120.9,597.5 L2121.87,597.5 L2122.85,597.5 L2123.82,597.5 L2124.79,597.5 L2125.77,597.5 L2126.74,597.5 L2127.71,597.5 L2128.69,597.5 L2129.66,597.5 L2130.63,597.5 L2131.61,597.5 L2132.58,597.5 L2133.56,597.5 L2134.53,597.5 L2135.5,597.5 L2136.48,597.5 L2137.45,597.5 L2138.42,597.5 L2139.4,597.5 L2140.37,597.5 L2141.34,597.5 L2142.32,597.5 L2143.29,597.5 L2144.26,597.5 L2145.24,597.5 L2146.21,597.5 L2147.19,597.49 L2148.16,597.49 L2149.13,597.49 L2150.11,597.49 L2151.08,597.49 L2152.05,597.49 L2153.03,597.49 L2154,597.49 L2154.97,597.49 L2155.95,597.49 L2156.92,597.49 L2157.9,597.49 L2158.87,597.49 L2159.84,597.49 L2160.82,597.49 L2161.79,597.49 L2162.76,597.49 L2163.74,597.48 L2164.71,597.48 L2165.68,597.48 L2166.66,597.48 L2167.63,597.48 L2168.6,597.48 L2169.58,597.48 L2170.55,597.48 L2171.53,597.47 L2172.5,597.47 L2173.47,597.47 L2174.45,597.47 L2175.42,597.47 L2176.39,597.47 L2177.37,597.46 L2178.34,597.46 L2179.31,597.46 L2180.29,597.46 L2181.26,597.45 L2182.23,597.45 L2183.21,597.45 L2184.18,597.44 L2185.16,597.44 L2186.13,597.43 L2187.1,597.43 L2188.08,597.43 L2189.05,597.42 L2190.02,597.42 L2191,597.41 L2191.97,597.4 L2192.94,597.4 L2193.92,597.39 L2194.89,597.38 L2195.87,597.38 L2196.84,597.37 L2197.81,597.36 L2198.79,597.35 L2199.76,597.34 L2200.73,597.33 L2201.71,597.32 L2202.68,597.3 L2203.65,597.29 L2204.63,597.28 L2205.6,597.26 L2206.57,597.25 L2207.55,597.23 L2208.52,597.21 L2209.5,597.19 L2210.47,597.17 L2211.44,597.15 L2212.42,597.13 L2213.39,597.1 L2214.36,597.08 L2215.34,597.05 L2216.31,597.02 L2217.28,596.99 L2218.26,596.95 L2219.23,596.92 L2220.21,596.88 L2221.18,596.84 L2222.15,596.79 L2223.13,596.75 L2224.1,596.7 L2225.07,596.65 L2226.05,596.59 L2227.02,596.53 L2227.99,596.46 L2228.97,596.4 L2229.94,596.32 L2230.91,596.24 L2231.89,596.16 L2232.86,596.07 L2233.84,595.98 L2234.81,595.88 L2235.78,595.77 L2236.76,595.65 L2237.73,595.53 L2238.7,595.4 L2239.68,595.26 L2240.65,595.11 L2241.62,594.96 L2242.6,594.79 L2243.57,594.61 L2244.55,594.42 L2245.52,594.21 L2246.49,593.99 L2247.47,593.76 L2248.44,593.52 L2249.41,593.25 L2250.39,592.97 L2251.36,592.67 L2252.33,592.35 L2253.31,592.01 L2254.28,591.64 L2255.25,591.26 L2256.23,590.84 L2257.2,590.4 L2258.18,589.93 L2259.15,589.43 L2260.12,588.9 L2261.1,588.33 L2262.07,587.72 L2263.04,587.07 L2264.02,586.38 L2264.99,585.64 L2265.96,584.86 L2266.94,584.02 L2267.91,583.13 L2268.89,582.18 L2269.86,581.16 L2270.83,580.08 L2271.81,578.92 L2272.78,577.69 L2273.75,576.38 L2274.73,574.98 L2275.7,573.49 L2276.67,571.9 L2277.65,570.21 L2278.62,568.4 L2279.59,566.47 L2280.57,564.41 L2281.54,562.22 L2282.52,559.89 L2283.49,557.39 L2284.46,554.74 L2285.44,551.91 L2286.41,548.89 L2287.38,545.67 L2288.36,542.23 L2289.33,538.57 L2290.3,534.67 L2291.28,530.51 L2292.25,526.07 L2293.22,521.34 L2294.2,516.29 L2295.17,510.91 L2296.15,505.18 L2297.12,499.06 L2298.09,492.54 L2299.07,485.59 L2300.04,478.17 L2301.01,470.27 L2301.99,461.84 L2302.96,452.86 L2303.93,443.27 L2304.91,433.06 L2305.88,422.17 L2306.86,410.55 L2307.83,398.17 L2308.8,384.96 L2309.78,370.89 L2310.75,355.88 L2311.72,339.87 L2312.7,322.81 L2313.67,304.61 L2314.64,285.21 L2315.62,264.52 L2316.59,242.47 L2317.56,218.95" fill="none" stroke="#0000ff" stroke-width="12"/>
<path d="M1818.3,597.5 L1929.1,597.5 L1930.07,597.5 L1931.05,597.5 L1932.02,597.5 L1932.99,597.5 L1933.97,597.5 L1934.94,597.5 L1935.92,597.5 L1936.89,597.5 L1937.86,597.5 L1938.84,597.5 L1939.81,597.5 L1940.78,597.5 L1941.76,597.5 L1942.73,597.5 L1943.7,597.5 L1944.68,597.5 L1945.65,597.5 L1946.62,597.5 L1947.6,597.5 L1948.57,597.5 L1949.55,597.5 L1950.52,597.5 L1951.49,597.5 L1952.47,597.5 L1953.44,597.5 L1954.41,597.5 L1955.39,597.5 L1956.36,597.5 L1957.33,597.5 L1958.31,597.5 L1959.28,597.5 L1960.26,597.5 L1961.23,597.5 L1962.2,597.5 L1963.18,597.5 L1964.15,597.5 L1965.12,597.5 L1966.1,597.5 L1967.07,597.5 L1968.04,597.5 L1969.02,597.5 L1969.99,597.5 L1970.96,597.5 L1971.94,597.5 L1972.91,597.5 L1973.89,597.5 L1974.86,597.5 L1975.83,597.5 L1976.81,597.5 L1977.78,597.5 L1978.75,597.5 L1979.73,597.5 L1980.7,597.5 L1981.67,597.5 L1982.65,597.5 L1983.62,597.5 L1984.59,597.5 L1985.57,597.5 L1986.54,597.5 L1987.52,597.5 L1988.49,597.5 L1989.46,597.5 L1990.44,597.5 L1991.41,597.5 L1992.38,597.5 L1993.36,597.5 L1994.33,597.5 L1995.3,597.5 L1996.28,597.5 L1997.25,597.5 L1998.23,597.5 L1999.2,597.5 L2000.17,597.5 L2001.15,597.5 L2002.12,597.5 L2003.09,597.5 L2004.07,597.5 L2005.04,597.5 L2006.01,597.5 L2006.99,597.5 L2007.96,597.5 L2008.93,597.5 L2009.91,597.5 L2010.88,597.5 L2011.86,597.5 L2012.83,597.5 L2013.8,597.5 L2014.78,597.5 L2015.75,597.5 L2016.72,597.5 L2017.7,597.5 L2018.67,597.5 L2019.64,597.5 L2020.62,597.5 L2021.59,597.5 L2022.57,597.5 L2023.54,597.5 L2024.51,597.5 L2025.49,597.5 L2026.46,597.5 L2027.43,597.5 L2028.41,597.5 L2029.38,597.5 L2030.35,597.5 L2031.33,597.5 L2032.3,597.5 L2033.27,597.5 L2034.25,597.5 L2035.22,597.5 L2036.2,597.5 L2037.17,597.5 L2038.14,597.5 L2039.12,597.5 L2040.09,597.5 L2041.06,597.5 L2042.04,597.5 L2043.01,597.5 L2043.98,597.5 L2044.96,597.5 L2045.93,597.5 L2046.91,597.5 L2047.88,597.5 L2048.85,597.5 L2049.83,597.5 L2050.8,597.5 L2051.77,597.5 L2052.75,597.5 L2053.72,597.5 L2054.69,597.5 L2055.67,597.5 L2056.64,597.5 L2057.61,597.5 L2058.59,597.5 L2059.56,597.5 L2060.54,597.5 L2061.51,597.5 L2062.48,597.5 L2063.46,597.5 L2064.43,597.5 L2065.4,597.5 L2066.38,597.5 L2067.35,597.5 L2068.32,597.5 L2069.3,597.5 L2070.27,597.5 L2071.25,597.5 L2072.22,597.5 L2073.19,597.5 L2074.17,597.5 L2075.14,597.5 L2076.11,597.5 L2077.09,597.5 L2078.06,597.5 L2079.03,597.5 L2080.01,597.5 L2080.98,597.5 L2081.95,597.5 L2082.93,597.5 L2083.9,597.5 L2084.88,597.5 L2085.85,597.5 L2086.82,597.5 L2087.8,597.5 L2088.77,597.5 L2089.74,597.5 L2090.72,597.5 L2091.69,597.5 L2092.66,597.5 L2093.64,597.5 L2094.61,597.5 L2095.58,597.5 L2096.56,597.5 L2097.53,597.5 L2098.51,597.5 L2099.48,597.5 L2100.45,597.5 L2101.43,597.5 L2102.4,597.5 L2103.37,597.5 L2104.35,597.5 L2105.32,597.5 L2106.29,597.5 L2107.27,597.5 L2108.24,597.5 L2109.22,597.5 L2110.19,597.5 L2111.16,597.5 L2112.14,597.5 L2113.11,597.5 L2114.08,597.5 L2115.06,597.5 L2116.03,597.5 L2117,597.5 L2117.98,597.5 L2118.95,597.5 L2119.92,597.5 L2120.9,597.5 L2121.87,597.5 L2122.85,597.5 L2123.82,597.5 L2124.79,597.5 L2125.77,597.5 L2126.74,597.5 L2127.71,597.5 L2128.69,597.5 L2129.66,597.5 L2130.63,597.5 L2131.61,597.5 L2132.58,597.5 L2133.56,597.5 L2134.53,597.5 L2135.5,597.5 L2136.48,597.5 L2137.45,597.5 L2138.42,597.5 L2139.4,597.5 L2140.37,597.5 L2141.34,597.5 L2142.32,597.5 L2143.29,597.5 L2144.26,597.5 L2145.24,597.5 L2146.21,597.5 L2147.19,597.49 L2148.16,597.49 L2149.13,597.49 L2150.11,597.49 L2151.08,597.49 L2152.05,597.49 L2153.03,597.49 L2154,597.49 L2154.97,597.49 L2155.95,597.49 L2156.92,597.49 L2157.9,597.49 L2158.87,597.49 L2159.84,597.49 L2160.82,597.49 L2161.79,597.49 L2162.76,597.49 L2163.74,597.48 L2164.71,597.48 L2165.68,597.48 L2166.66,597.48 L2167.63,597.48 L2168.6,597.48 L2169.58,597.48 L2170.55,597.48 L2171.53,597.47 L2172.5,597.47 L2173.47,597.47 L2174.45,597.47 L2175.42,597.47 L2176.39,597.47 L2177.37,597.46 L2178.34,597.46 L2179.31,597.46 L2180.29,597.46 L2181.26,597.45 L2182.23,597.45 L2183.21,597.45 L2184.18,597.44 L2185.16,597.44 L2186.13,597.43 L2187.1,597.43 L2188.08,597.43 L2189.05,597.42 L2190.02,597.42 L2191,597.41 L2191.97,597.4 L2192.94,597.4 L2193.92,597.39 L2194.89,597.38 L2195.87,597.38 L2196.84,597.37 L2197.81,597.36 L2198.79,597.35 L2199.76,597.34 L2200.73,597.33 L2201.71,597.32 L2202.68,597.3 L2203.65,597.29 L2204.63,597.28 L2205.6,597.26 L2206.57,597.25 L2207.55,597.23 L2208.52,597.21 L2209.5,597.19 L2210.47,597.17 L2211.44,597.15 L2212.42,597.13 L2213.39,597.1 L2214.36,597.08 L2215.34,597.05 L2216.31,597.02 L2217.28,596.99 L2218.26,596.95 L2219.23,596.92 L2220.21,596.88 L2221.18,596.84 L2222.15,596.79 L2223.13,596.75 L2224.1,596.7 L2225.07,596.65 L2226.05,596.59 L2227.02,596.53 L2227.99,596.46 L2228.97,596.4 L2229.94,596.32 L2230.91,596.24 L2231.89,596.16 L2232.86,596.07 L2233.84,595.98 L2234.81,595.88 L2235.78,595.77 L2236.76,595.65 L2237.73,595.53 L2238.7,595.4 L2239.68,595.26 L2240.65,595.11 L2241.62,594.96 L2242.6,594.79 L2243.57,594.61 L2244.55,594.42 L2245.52,594.21 L2246.49,593.99 L2247.47,593.76 L2248.44,593.52 L2249.41,593.25 L2250.39,592.97 L2251.36,592.67 L2252.33,592.35 L2253.31,592.01 L2254.28,591.64 L2255.25,591.26 L2256.23,590.84 L2257.2,590.4 L2258.18,589.93 L2259.15,589.43 L2260.12,588.9 L2261.1,588.33 L2262.07,587.72 L2263.04,587.07 L2264.02,586.38 L2264.99,585.64 L2265.96,584.86 L2266.94,584.02 L2267.91,583.13 L2268.89,582.18 L2269.86,581.16 L2270.83,580.08 L2271.81,578.92 L2272.78,577.69 L2273.75,576.38 L2274.73,574.98 L2275.7,573.49 L2276.67,571.9 L2277.65,570.21 L2278.62,568.4 L2279.59,566.47 L2280.57,564.41 L2281.54,562.22 L2282.52,559.89 L2283.49,557.39 L2284.46,554.74 L2285.44,551.91 L2286.41,548.89 L2287.38,545.67 L2288.36,542.23 L2289.33,538.57 L2290.3,534.67 L2291.28,530.51 L2292.25,526.07 L2293.22,521.34 L2294.2,516.29 L2295.17,510.91 L2296.15,505.18 L2297.12,499.06 L2298.09,492.54 L2299.07,485.59 L2300.04,478.17 L2301.01,470.27 L2301.99,461.84 L2302.96,452.86 L2303.93,443.27 L2304.91,433.06 L2305.88,422.17 L2306.86,410.55 L2307.83,398.17 L2308.8,384.96 L2309.78,370.89 L2310.75,355.88 L2311.72,339.87 L2312.7,322.81 L2313.67,304.61 L2314.64,285.21 L2315.62,264.52 L2316.59,242.47 L2317.56,218.95" fill="none" stroke="#ff0000" stroke-width="12" stroke-dasharray="44.6 38.6"/>
<path d="M1932.9,597.5 L1926.2,597.5 L1925.14,600.28 L1924.11,603.05 L1923.09,605.83 L1922.09,608.61 L1921.11,611.38 L1920.14,614.16 L1919.2,616.93 L1918.26,619.71 L1917.35,622.49 L1916.45,625.26 L1915.57,628.04 L1914.7,630.82 L1913.85,633.59 L1913.01,636.37 L1912.19,639.15 L1911.38,641.92 L1910.59,644.7 L1909.81,647.47 L1909.05,650.25 L1908.3,653.03 L1907.57,655.8 L1906.85,658.58 L1906.14,661.36 L1905.45,664.13 L1904.77,666.91 L1904.1,669.69 L1903.45,672.46 L1902.8,675.24 L1902.17,678.02 L1901.56,680.79 L1900.95,683.57 L1900.36,686.34 L1899.77,689.12 L1899.2,691.9 L1898.64,694.67 L1898.09,697.45 L1897.56,700.23 L1897.03,703 L1896.51,705.78 L1896,708.56 L1895.51,711.33 L1895.02,714.11 L1894.54,716.88 L1894.07,719.66 L1893.61,722.44 L1893.16,725.21 L1892.72,727.99 L1892.29,730.77 L1891.86,733.54 L1891.45,736.32 L1891.04,739.1 L1890.64,741.87 L1890.24,744.65 L1889.86,747.42 L1889.48,750.2 L1889.1,752.98 L1888.74,755.75 L1888.38,758.53 L1888.03,761.31 L1887.68,764.08 L1887.34,766.86 L1887,769.64 L1886.67,772.41 L1886.35,775.19 L1886.03,777.96 L1885.72,780.74 L1885.41,783.52 L1885.1,786.29 L1884.8,789.07 L1884.5,791.85 L1884.21,794.62 L1883.92,797.4 L1883.64,800.18 L1883.35,802.95 L1883.08,805.73 L1882.8,808.51 L1882.53,811.28 L1882.27,814.06 L1882,816.83 L1881.74,819.61 L1881.49,822.39 L1881.24,825.16 L1880.99,827.94 L1880.74,830.72 L1880.5,833.49 L1880.26,836.27 L1880.03,839.05 L1879.79,841.82 L1879.57,844.6 L1879.34,847.37 L1879.12,850.15 L1878.9,852.93 L1878.68,855.7 L1878.47,858.48 L1878.25,861.26 L1878.05,864.03 L1877.84,866.81 L1877.64,869.59 L1877.44,872.36 L1877.24,875.14 L1877.04,877.91 L1876.85,880.69 L1876.66,883.47 L1876.48,886.24 L1876.29,889.02 L1876.11,891.8 L1875.93,894.57 L1875.75,897.35 L1875.57,900.13 L1875.4,902.9 L1875.23,905.68 L1875.06,908.45 L1874.89,911.23 L1874.73,914.01 L1874.56,916.78 L1874.4,919.56 L1874.24,922.34 L1874.09,925.11 L1873.93,927.89 L1873.78,930.67 L1873.62,933.44 L1873.47,936.22 L1873.32,938.99 L1873.18,941.77 L1873.03,944.55 L1872.89,947.32 L1872.74,950.1 L1872.6,952.88 L1872.46,955.65 L1872.32,958.43 L1872.18,961.21 L1872.05,963.98 L1871.91,966.76 L1871.78,969.54 L1871.64,972.31 L1871.51,975.09 L1871.38,977.86 L1871.25,980.64 L1871.12,983.42 L1870.99,986.19 L1870.86,988.97 L1870.73,991.75 L1870.61,994.52 L1870.48,997.3 L1870.35,1000.08 L1870.23,1002.85 L1870.1,1005.63 L1869.98,1008.4 L1869.86,1011.18 L1869.73,1013.96 L1869.61,1016.73 L1869.49,1019.51 L1869.36,1022.29 L1869.24,1025.06 L1869.12,1027.84 L1869,1030.62 L1868.87,1033.39 L1868.75,1036.17 L1868.63,1038.94 L1868.51,1041.72 L1868.39,1044.5 L1868.26,1047.27 L1868.14,1050.05 L1868.02,1052.83 L1867.89,1055.6 L1867.77,1058.38 L1867.64,1061.16 L1867.52,1063.93 L1867.39,1066.71 L1867.27,1069.48 L1867.14,1072.26 L1867.02,1075.04 L1866.89,1077.81 L1866.76,1080.59 L1866.63,1083.37 L1866.5,1086.14 L1866.37,1088.92 L1866.24,1091.7 L1866.1,1094.47 L1865.97,1097.25 L1865.83,1100.03 L1865.7,1102.8 L1865.56,1105.58 L1865.42,1108.35 L1865.28,1111.13 L1865.14,1113.91 L1865,1116.68 L1864.86,1119.46 L1864.71,1122.24 L1864.56,1125.01 L1864.42,1127.79 L1864.27,1130.57 L1864.11,1133.34 L1863.96,1136.12 L1863.81,1138.89 L1863.65,1141.67 L1863.49,1144.45 L1863.33,1147.22 L1863.17,1150" fill="none" stroke="#000" stroke-width="12" stroke-dasharray="44.6 8 22.5 8" stroke-linejoin="miter"/>
<path d="M1932.9,597.5 L1933.97,597.5 L1934.94,597.5 L1935.92,597.5 L1936.89,597.5 L1937.86,597.5 L1938.84,597.5 L1939.81,597.5 L1940.78,597.5 L1941.76,597.5 L1942.73,597.5 L1943.7,597.5 L1944.68,597.5 L1945.65,597.5 L1946.62,597.5 L1947.6,597.5 L1948.57,597.5 L1949.55,597.5 L1950.52,597.5 L1951.49,597.5 L1952.47,597.5 L1953.44,597.5 L1954.41,597.5 L1955.39,597.5 L1956.36,597.5 L1957.33,597.5 L1958.31,597.5 L1959.28,597.5 L1960.26,597.5 L1961.23,597.5 L1962.2,597.5 L1963.18,597.5 L1964.15,597.5 L1965.12,597.5 L1966.1,597.5 L1967.07,597.5 L1968.04,597.5 L1969.02,597.5 L1969.99,597.5 L1970.96,597.5 L1971.94,597.5 L1972.91,597.5 L1973.89,597.5 L1974.86,597.5 L1975.83,597.5 L1976.81,597.5 L1977.78,597.5 L1978.75,597.5 L1979.73,597.5 L1980.7,597.5 L1981.67,597.5 L1982.65,597.5 L1983.62,597.5 L1984.59,597.5 L1985.57,597.5 L1986.54,597.5 L1987.52,597.5 L1988.49,597.5 L1989.46,597.5 L1990.44,597.5 L1991.41,597.5 L1992.38,597.5 L1993.36,597.5 L1994.33,597.5 L1995.3,597.5 L1996.28,597.5 L1997.25,597.5 L1998.23,597.5 L1999.2,597.5 L2000.17,597.5 L2001.15,597.5 L2002.12,597.5 L2003.09,597.5 L2004.07,597.5 L2005.04,597.5 L2006.01,597.5 L2006.99,597.5 L2007.96,597.5 L2008.93,597.5 L2009.91,597.5 L2010.88,597.5 L2011.86,597.5 L2012.83,597.5 L2013.8,597.5 L2014.78,597.5 L2015.75,597.5 L2016.72,597.5 L2017.7,597.5 L2018.67,597.5 L2019.64,597.5 L2020.62,597.5 L2021.59,597.5 L2022.57,597.5 L2023.54,597.5 L2024.51,597.5 L2025.49,597.5 L2026.46,597.5 L2027.43,597.5 L2028.41,597.5 L2029.38,597.5 L2030.35,597.5 L2031.33,597.5 L2032.3,597.5 L2033.27,597.5 L2034.25,597.5 L2035.22,597.5 L2036.2,597.5 L2037.17,597.5 L2038.14,597.5 L2039.12,597.5 L2040.09,597.5 L2041.06,597.5 L2042.04,597.5 L2043.01,597.5 L2043.98,597.5 L2044.96,597.5 L2045.93,597.5 L2046.91,597.5 L2047.88,597.5 L2048.85,597.5 L2049.83,597.5 L2050.8,597.5 L2051.77,597.5 L2052.75,597.5 L2053.72,597.5 L2054.69,597.5 L2055.67,597.5 L2056.64,597.5 L2057.61,597.5 L2058.59,597.5 L2059.56,597.5 L2060.54,597.5 L2061.51,597.5 L2062.48,597.5 L2063.46,597.5 L2064.43,597.5 L2065.4,597.5 L2066.38,597.5 L2067.35,597.5 L2068.32,597.5 L2069.3,597.5 L2070.27,597.5 L2071.25,597.5 L2072.22,597.5 L2073.19,597.5 L2074.17,597.5 L2075.14,597.5 L2076.11,597.5 L2077.09,597.5 L2078.06,597.5 L2079.03,597.5 L2080.01,597.5 L2080.98,597.5 L2081.95,597.5 L2082.93,597.5 L2083.9,597.5 L2084.88,597.5 L2085.85,597.5 L2086.82,597.5 L2087.8,597.5 L2088.77,597.5 L2089.74,597.5 L2090.72,597.5 L2091.69,597.5 L2092.66,597.5 L2093.64,597.5 L2094.61,597.5 L2095.58,597.5 L2096.56,597.5 L2097.53,597.5 L2098.51,597.5 L2099.48,597.5 L2100.45,597.5 L2101.43,597.5 L2102.4,597.5 L2103.37,597.5 L2104.35,597.5 L2105.32,597.5 L2106.29,597.5 L2107.27,597.5 L2108.24,597.5 L2109.22,597.5 L2110.19,597.5 L2111.16,597.5 L2112.14,597.5 L2113.11,597.5 L2114.08,597.5 L2115.06,597.5 L2116.03,597.5 L2117,597.5 L2117.98,597.5 L2118.95,597.5 L2119.92,597.5 L2120.9,597.5 L2121.87,597.5 L2122.85,597.5 L2123.82,597.5 L2124.79,597.5 L2125.77,597.5 L2126.74,597.5 L2127.71,597.5 L2128.69,597.5 L2129.66,597.5 L2130.63,597.5 L2131.61,597.5 L2132.58,597.5 L2133.56,597.5 L2134.53,597.5 L2135.5,597.5 L2136.48,597.5 L2137.45,597.5 L2138.42,597.5 L2139.4,597.5 L2140.37,597.5 L2141.34,597.5 L2142.32,597.5 L2143.29,597.5 L2144.26,597.5 L2145.24,597.5 L2146.21,597.5 L2147.19,597.49 L2148.16,597.49 L2149.13,597.49 L2150.11,597.49 L2151.08,597.49 L2152.05,597.49 L2153.03,597.49 L2154,597.49 L2154.97,597.49 L2155.95,597.49 L2156.92,597.49 L2157.9,597.49 L2158.87,597.49 L2159.84,597.49 L2160.82,597.49 L2161.79,597.49 L2162.76,597.49 L2163.74,597.48 L2164.71,597.48 L2165.68,597.48 L2166.66,597.48 L2167.63,597.48 L2168.6,597.48 L2169.58,597.48 L2170.55,597.48 L2171.53,597.47 L2172.5,597.47 L2173.47,597.47 L2174.45,597.47 L2175.42,597.47 L2176.39,597.47 L2177.37,597.46 L2178.34,597.46 L2179.31,597.46 L2180.29,597.46 L2181.26,597.45 L2182.23,597.45 L2183.21,597.45 L2184.18,597.44 L2185.16,597.44 L2186.13,597.43 L2187.1,597.43 L2188.08,597.43 L2189.05,597.42 L2190.02,597.42 L2191,597.41 L2191.97,597.4 L2192.94,597.4 L2193.92,597.39 L2194.89,597.38 L2195.87,597.38 L2196.84,597.37 L2197.81,597.36 L2198.79,597.35 L2199.76,597.34 L2200.73,597.33 L2201.71,597.32 L2202.68,597.3 L2203.65,597.29 L2204.63,597.28 L2205.6,597.26 L2206.57,597.25 L2207.55,597.23 L2208.52,597.21 L2209.5,597.19 L2210.47,597.17 L2211.44,597.15 L2212.42,597.13 L2213.39,597.1 L2214.36,597.08 L2215.34,597.05 L2216.31,597.02 L2217.28,596.99 L2218.26,596.95 L2219.23,596.92 L2220.21,596.88 L2221.18,596.84 L2222.15,596.79 L2223.13,596.75 L2224.1,596.7 L2225.07,596.65 L2226.05,596.59 L2227.02,596.53 L2227.99,596.46 L2228.97,596.4 L2229.94,596.32 L2230.91,596.24 L2231.89,596.16 L2232.86,596.07 L2233.84,595.98 L2234.81,595.88 L2235.78,595.77 L2236.76,595.65 L2237.73,595.53 L2238.7,595.4 L2239.68,595.26 L2240.65,595.11 L2241.62,594.96 L2242.6,594.79 L2243.57,594.61 L2244.55,594.42 L2245.52,594.21 L2246.49,593.99 L2247.47,593.76 L2248.44,593.52 L2249.41,593.25 L2250.39,592.97 L2251.36,592.67 L2252.33,592.35 L2253.31,592.01 L2254.28,591.64 L2255.25,591.26 L2256.23,590.84 L2257.2,590.4 L2258.18,589.93 L2259.15,589.43 L2260.12,588.9 L2261.1,588.33 L2262.07,587.72 L2263.04,587.07 L2264.02,586.38 L2264.99,585.64 L2265.96,584.86 L2266.94,584.02 L2267.91,583.13 L2268.89,582.18 L2269.86,581.16 L2270.83,580.08 L2271.81,578.92 L2272.78,577.69 L2273.75,576.38 L2274.73,574.98 L2275.7,573.49 L2276.67,571.9 L2277.65,570.21 L2278.62,568.4 L2279.59,566.47 L2280.57,564.41 L2281.54,562.22 L2282.52,559.89 L2283.49,557.39 L2284.46,554.74 L2285.44,551.91 L2286.41,548.89 L2287.38,545.67 L2288.36,542.23 L2289.33,538.57 L2290.3,534.67 L2291.28,530.51 L2292.25,526.07 L2293.22,521.34 L2294.2,516.29 L2295.17,510.91 L2296.15,505.18 L2297.12,499.06 L2298.09,492.54 L2299.07,485.59 L2300.04,478.17 L2301.01,470.27 L2301.99,461.84 L2302.96,452.86 L2303.93,443.27 L2304.91,433.06 L2305.88,422.17 L2306.86,410.55 L2307.83,398.17 L2308.8,384.96 L2309.78,370.89 L2310.75,355.88 L2311.72,339.87 L2312.7,322.81 L2313.67,304.61 L2314.64,285.21 L2315.62,264.52 L2316.59,242.47 L2317.56,218.95" fill="none" stroke="#000" stroke-width="12" stroke-dasharray="0 8 22.5 8 44.6 0"/>
<path d="M1913.04,1160 L1913.1,1157.55 L1913.17,1155.1 L1913.24,1152.65 L1913.31,1150.2 L1913.38,1147.74 L1913.45,1145.29 L1913.51,1142.84 L1913.58,1140.39 L1913.65,1137.94 L1913.72,1135.49 L1913.79,1133.03 L1913.86,1130.58 L1913.92,1128.13 L1913.99,1125.68 L1914.06,1123.23 L1914.13,1120.77 L1914.2,1118.32 L1914.27,1115.87 L1914.34,1113.42 L1914.41,1110.97 L1914.47,1108.52 L1914.54,1106.06 L1914.61,1103.61 L1914.68,1101.16 L1914.75,1098.71 L1914.82,1096.26 L1914.89,1093.81 L1914.96,1091.36 L1915.03,1088.9 L1915.1,1086.45 L1915.17,1084 L1915.23,1081.55 L1915.3,1079.1 L1915.37,1076.65 L1915.44,1074.2 L1915.51,1071.75 L1915.58,1069.29 L1915.65,1066.84 L1915.72,1064.39 L1915.79,1061.94 L1915.86,1059.49 L1915.93,1057.04 L1916,1054.59 L1916.07,1052.14 L1916.14,1049.69 L1916.21,1047.23 L1916.28,1044.78 L1916.35,1042.33 L1916.42,1039.88 L1916.49,1037.43 L1916.56,1034.98 L1916.63,1032.53 L1916.7,1030.08 L1916.77,1027.63 L1916.84,1025.18 L1916.91,1022.72 L1916.98,1020.27 L1917.05,1017.82 L1917.12,1015.37 L1917.19,1012.92 L1917.26,1010.47 L1917.33,1008.02 L1917.4,1005.57 L1917.47,1003.12 L1917.54,1000.67 L1917.61,998.22 L1917.68,995.77 L1917.75,993.31 L1917.82,990.86 L1917.89,988.41 L1917.96,985.96 L1918.03,983.51 L1918.1,981.06 L1918.18,978.61 L1918.25,976.16 L1918.32,973.71 L1918.39,971.26 L1918.46,968.81 L1918.53,966.36 L1918.6,963.91 L1918.67,961.46 L1918.74,959 L1918.81,956.55 L1918.89,954.1 L1918.96,951.65 L1919.03,949.2 L1919.1,946.75 L1919.17,944.3 L1919.24,941.85 L1919.31,939.4 L1919.38,936.95 L1919.46,934.5 L1919.53,932.05 L1919.6,929.6 L1919.67,927.15 L1919.74,924.7 L1919.81,922.25 L1919.89,919.8 L1919.96,917.34 L1920.03,914.89 L1920.1,912.44 L1920.17,909.99 L1920.24,907.54 L1920.32,905.09 L1920.39,902.64 L1920.46,900.19 L1920.53,897.74 L1920.6,895.29 L1920.68,892.84 L1920.75,890.39 L1920.82,887.94 L1920.89,885.49 L1920.97,883.04 L1921.04,880.59 L1921.11,878.14 L1921.18,875.69 L1921.26,873.23 L1921.33,870.78 L1921.4,868.33 L1921.47,865.88 L1921.55,863.43 L1921.62,860.98 L1921.69,858.53 L1921.76,856.08 L1921.84,853.63 L1921.91,851.18 L1921.98,848.73 L1922.06,846.28 L1922.13,843.83 L1922.2,841.38 L1922.27,838.93 L1922.35,836.48 L1922.42,834.03 L1922.49,831.57 L1922.57,829.12 L1922.64,826.67 L1922.71,824.22 L1922.79,821.77 L1922.86,819.32 L1922.93,816.87 L1923.01,814.42 L1923.08,811.97 L1923.15,809.52 L1923.23,807.07 L1923.3,804.62 L1923.37,802.17 L1923.45,799.72 L1923.52,797.27 L1923.6,794.81 L1923.67,792.36 L1923.74,789.91 L1923.82,787.46 L1923.89,785.01 L1923.97,782.56 L1924.04,780.11 L1924.11,777.66 L1924.19,775.21 L1924.26,772.76 L1924.34,770.31 L1924.41,767.86 L1924.48,765.4 L1924.56,762.95 L1924.63,760.5 L1924.71,758.05 L1924.78,755.6 L1924.86,753.15 L1924.93,750.7 L1925.01,748.25 L1925.08,745.8 L1925.16,743.35 L1925.23,740.89 L1925.3,738.44 L1925.38,735.99 L1925.45,733.54 L1925.53,731.09 L1925.6,728.64 L1925.68,726.19 L1925.75,723.74 L1925.83,721.29 L1925.9,718.83 L1925.98,716.38 L1926.05,713.93 L1926.13,711.48 L1926.21,709.03 L1926.28,706.58 L1926.36,704.13 L1926.43,701.68 L1926.51,699.22 L1926.58,696.77 L1926.66,694.32 L1926.73,691.87 L1926.81,689.42 L1926.89,686.97 L1926.96,684.52 L1927.04,682.06 L1927.11,679.61 L1927.19,677.16 L1927.26,674.71 L1927.34,672.26 L1927.42,669.81 L1927.49,667.35 L1927.57,664.9 L1927.64,662.45 L1927.72,660 L1927.8,657.55 L1927.87,655.1 L1927.95,652.64 L1928.03,650.19 L1928.1,647.74 L1928.18,645.29 L1928.26,642.84 L1928.33,640.38 L1928.41,637.93 L1928.49,635.48 L1928.56,633.03 L1928.64,630.58 L1928.72,628.12 L1928.8,625.67 L1928.88,623.22 L1928.96,620.77 L1929.05,618.32 L1929.13,615.87 L1929.22,613.41 L1929.31,610.96 L1929.4,608.51 L1929.49,606.06 L1929.59,603.61 L1929.69,601.16 L1929.79,598.71 L1929.9,596.26 L1930.01,593.81 L1930.12,591.36 L1930.24,588.91 L1930.36,586.46 L1930.48,584.01 L1930.61,581.56 L1930.75,579.11 L1930.89,576.67 L1931.03,574.22 L1931.18,571.77 L1931.33,569.32 L1931.49,566.88 L1931.66,564.43 L1931.83,561.99 L1932.01,559.54 L1932.19,557.1 L1932.38,554.65 L1932.58,552.21 L1932.78,549.77 L1933,547.32 L1933.21,544.88 L1933.44,542.44 L1933.67,540 L1933.91,537.56 L1934.16,535.12 L1934.42,532.68 L1934.69,530.24 L1934.96,527.8 L1935.24,525.36 L1935.53,522.93 L1935.83,520.49 L1936.13,518.06 L1936.43,515.62 L1936.74,513.19 L1937.05,510.75 L1937.36,508.32 L1937.67,505.89 L1937.98,503.46 L1938.28,501.03 L1938.59,498.6 L1938.89,496.17 L1939.19,493.74 L1939.48,491.32 L1939.77,488.89 L1940.05,486.47 L1940.32,484.04 L1940.58,481.62 L1940.83,479.2 L1941.07,476.78 L1941.3,474.36 L1941.53,471.94 L1941.77,469.52 L1942.03,467.1 L1942.31,464.67 L1942.62,462.25 L1942.96,459.83 L1943.36,457.4 L1943.82,454.98 L1944.33,452.54 L1944.92,450.11 L1945.59,447.67 L1946.35,445.23 L1947.21,442.8 L1948.17,440.38 L1949.24,438 L1950.44,435.69 L1951.76,433.46 L1953.22,431.42 L1954.83,429.7 L1956.59,428.42 L1958.47,427.64 L1960.45,427.36 L1962.47,427.56 L1964.5,428.26 L1966.48,429.43 L1968.38,430.99 L1970.16,432.81 L1971.78,434.76 L1973.26,436.82 L1974.61,438.97 L1975.86,441.19 L1977.03,443.45 L1978.14,445.75 L1979.21,448.06 L1980.27,450.37 L1981.33,452.65 L1982.4,454.92 L1983.47,457.18 L1984.54,459.41 L1985.62,461.64 L1986.7,463.84 L1987.78,466.04 L1988.87,468.22 L1989.96,470.4 L1991.05,472.56 L1992.15,474.71 L1993.25,476.86 L1994.35,479 L1995.45,481.13 L1996.55,483.26 L1997.66,485.38 L1998.77,487.51 L1999.88,489.63 L2000.99,491.75 L2002.11,493.87 L2003.22,495.99 L2004.34,498.11 L2005.46,500.24 L2006.57,502.37 L2007.69,504.51 L2008.81,506.66 L2009.93,508.81 L2011.06,510.97 L2012.18,513.14 L2013.3,515.32 L2014.42,517.51 L2015.54,519.72 L2016.66,521.94 L2017.79,524.16 L2018.91,526.4 L2020.05,528.64 L2021.19,530.88 L2022.34,533.12 L2023.5,535.36 L2024.67,537.6 L2025.85,539.82 L2027.05,542.05 L2028.26,544.25 L2029.49,546.45 L2030.74,548.63 L2032.01,550.8 L2033.3,552.94 L2034.61,555.06 L2035.95,557.16 L2037.32,559.23 L2038.71,561.27 L2040.14,563.28 L2041.59,565.26 L2043.08,567.2 L2044.6,569.1 L2046.16,570.96 L2047.75,572.78 L2049.38,574.56 L2051.05,576.29 L2052.77,577.97 L2054.52,579.6 L2056.32,581.17 L2058.17,582.69 L2060.07,584.15 L2062.01,585.55 L2064,586.89 L2066.05,588.16 L2068.14,589.37 L2070.28,590.5 L2072.46,591.57 L2074.68,592.56 L2076.94,593.47 L2079.24,594.31 L2081.57,595.06 L2083.92,595.74 L2086.31,596.32 L2088.72,596.82 L2091.15,597.23 L2093.6,597.55 L2096.07,597.78 L2098.56,597.9 L2101.05,597.93 L2103.55,597.86 L2106.06,597.69 L2107.27,597.5 L2108.24,597.5 L2109.22,597.5 L2110.19,597.5 L2111.16,597.5 L2112.14,597.5 L2113.11,597.5 L2114.08,597.5 L2115.06,597.5 L2116.03,597.5 L2117,597.5 L2117.98,597.5 L2118.95,597.5 L2119.92,597.5 L2120.9,597.5 L2121.87,597.5 L2122.85,597.5 L2123.82,597.5 L2124.79,597.5 L2125.77,597.5 L2126.74,597.5 L2127.71,597.5 L2128.69,597.5 L2129.66,597.5 L2130.63,597.5 L2131.61,597.5 L2132.58,597.5 L2133.56,597.5 L2134.53,597.5 L2135.5,597.5 L2136.48,597.5 L2137.45,597.5 L2138.42,597.5 L2139.4,597.5 L2140.37,597.5 L2141.34,597.5 L2142.32,597.5 L2143.29,597.5 L2144.26,597.5 L2145.24,597.5 L2146.21,597.5 L2147.19,597.49 L2148.16,597.49 L2149.13,597.49 L2150.11,597.49 L2151.08,597.49 L2152.05,597.49 L2153.03,597.49 L2154,597.49 L2154.97,597.49 L2155.95,597.49 L2156.92,597.49 L2157.9,597.49 L2158.87,597.49 L2159.84,597.49 L2160.82,597.49 L2161.79,597.49 L2162.76,597.49 L2163.74,597.48 L2164.71,597.48 L2165.68,597.48 L2166.66,597.48 L2167.63,597.48 L2168.6,597.48 L2169.58,597.48 L2170.55,597.48 L2171.53,597.47 L2172.5,597.47 L2173.47,597.47 L2174.45,597.47 L2175.42,597.47 L2176.39,597.47 L2177.37,597.46 L2178.34,597.46 L2179.31,597.46 L2180.29,597.46 L2181.26,597.45 L2182.23,597.45 L2183.21,597.45 L2184.18,597.44 L2185.16,597.44 L2186.13,597.43 L2187.1,597.43 L2188.08,597.43 L2189.05,597.42 L2190.02,597.42 L2191,597.41 L2191.97,597.4 L2192.94,597.4 L2193.92,597.39 L2194.89,597.38 L2195.87,597.38 L2196.84,597.37 L2197.81,597.36 L2198.79,597.35 L2199.76,597.34 L2200.73,597.33 L2201.71,597.32 L2202.68,597.3 L2203.65,597.29 L2204.63,597.28 L2205.6,597.26 L2206.57,597.25 L2207.55,597.23 L2208.52,597.21 L2209.5,597.19 L2210.47,597.17 L2211.44,597.15 L2212.42,597.13 L2213.39,597.1 L2214.36,597.08 L2215.34,597.05 L2216.31,597.02 L2217.28,596.99 L2218.26,596.95 L2219.23,596.92 L2220.21,596.88 L2221.18,596.84 L2222.15,596.79 L2223.13,596.75 L2224.1,596.7 L2225.07,596.65 L2226.05,596.59 L2227.02,596.53 L2227.99,596.46 L2228.97,596.4 L2229.94,596.32 L2230.91,596.24 L2231.89,596.16 L2232.86,596.07 L2233.84,595.98 L2234.81,595.88 L2235.78,595.77 L2236.76,595.65 L2237.73,595.53 L2238.7,595.4 L2239.68,595.26 L2240.65,595.11 L2241.62,594.96 L2242.6,594.79 L2243.57,594.61 L2244.55,594.42 L2245.52,594.21 L2246.49,593.99 L2247.47,593.76 L2248.44,593.52 L2249.41,593.25 L2250.39,592.97 L2251.36,592.67 L2252.33,592.35 L2253.31,592.01 L2254.28,591.64 L2255.25,591.26 L2256.23,590.84 L2257.2,590.4 L2258.18,589.93 L2259.15,589.43 L2260.12,588.9 L2261.1,588.33 L2262.07,587.72 L2263.04,587.07 L2264.02,586.38 L2264.99,585.64 L2265.96,584.86 L2266.94,584.02 L2267.91,583.13 L2268.89,582.18 L2269.86,581.16 L2270.83,580.08 L2271.81,578.92 L2272.78,577.69 L2273.75,576.38 L2274.73,574.98 L2275.7,573.49 L2276.67,571.9 L2277.65,570.21 L2278.62,568.4 L2279.59,566.47 L2280.57,564.41 L2281.54,562.22 L2282.52,559.89 L2283.49,557.39 L2284.46,554.74 L2285.44,551.91 L2286.41,548.89 L2287.38,545.67 L2288.36,542.23 L2289.33,538.57 L2290.3,534.67 L2291.28,530.51 L2292.25,526.07 L2293.22,521.34 L2294.2,516.29 L2295.17,510.91 L2296.15,505.18 L2297.12,499.06 L2298.09,492.54 L2299.07,485.59 L2300.04,478.17 L2301.01,470.27 L2301.99,461.84 L2302.96,452.86 L2303.93,443.27 L2304.91,433.06 L2305.88,422.17 L2306.86,410.55 L2307.83,398.17 L2308.8,384.96 L2309.78,370.89 L2310.75,355.88 L2311.72,339.87 L2312.7,322.81 L2313.67,304.61 L2314.64,285.21 L2315.62,264.52 L2316.59,242.47 L2317.56,218.95" fill="none" stroke="#00ff00" stroke-width="12"/>
</g>
<g id="c-legend">
<rect x="1897.2" y="796.6" width="421" height="325.2" fill="#fff" stroke="#666" stroke-width="2.4"/>
<line x1="1897.2" y1="797.8" x2="1897.2" y2="1121.8" stroke="#444" stroke-width="2.4"/>
<line x1="2318.2" y1="797.8" x2="2318.2" y2="1121.8" stroke="#999" stroke-width="2.4"/>
<line x1="1898.4" y1="1121.8" x2="2319.4" y2="1121.8" stroke="#b4b4b4" stroke-width="2.4"/>
<line x1="1903.3" y1="839.3" x2="1973.5" y2="839.3" stroke="#0000ff" stroke-width="12.5"/>
<text font-size="43" text-anchor="start"><tspan x="1979.2" y="851.2">N</tspan><tspan x="2011.2" y="870.5" font-size="31">A</tspan><tspan x="2031.6" y="854.6" font-size="47" font-weight="normal">=</tspan><tspan x="2057.4" y="851.2">1</tspan><tspan x="2080.7" y="856.4" font-size="51" font-weight="normal">×</tspan><tspan x="2112.6" y="851.2">10</tspan><tspan x="2156.2" y="830" font-size="32.5">18</tspan><tspan x="2189.4" y="851.2" letter-spacing="-1.2">cm</tspan><tspan x="2242.6" y="830" font-size="32.5">-3</tspan></text>
<line x1="1903.3" y1="918.7" x2="1948.2" y2="918.7" stroke="#ff0000" stroke-width="12.5"/>
<text font-size="43" text-anchor="start"><tspan x="1979.2" y="931.4">N</tspan><tspan x="2011.2" y="950.7" font-size="31">A</tspan><tspan x="2031.6" y="934.8" font-size="47" font-weight="normal">=</tspan><tspan x="2057.2" y="931.4">7</tspan><tspan x="2080.7" y="936.6" font-size="51" font-weight="normal">×</tspan><tspan x="2112.6" y="931.4">10</tspan><tspan x="2156.2" y="910.2" font-size="32.5">18</tspan><tspan x="2189.4" y="931.4" letter-spacing="-1.2">cm</tspan><tspan x="2242.6" y="910.2" font-size="32.5">-3</tspan></text>
<line x1="1903.3" y1="1000.2" x2="1947.8" y2="1000.2" stroke="#000" stroke-width="12.5"/>
<line x1="1955.9" y1="1000.2" x2="1973.5" y2="1000.2" stroke="#000" stroke-width="12.5"/>
<text font-size="43" text-anchor="start"><tspan x="1979.2" y="1010.7">N</tspan><tspan x="2011.2" y="1030" font-size="31">A</tspan><tspan x="2031.6" y="1014.1" font-size="47" font-weight="normal">=</tspan><tspan x="2057.4" y="1010.7">1</tspan><tspan x="2080.7" y="1015.9" font-size="51" font-weight="normal">×</tspan><tspan x="2112.6" y="1010.7">10</tspan><tspan x="2156.2" y="989.5" font-size="32.5">19</tspan><tspan x="2200.6" y="1010.7" letter-spacing="-1.2">cm</tspan><tspan x="2253.8" y="989.5" font-size="32.5">-3</tspan></text>
<line x1="1903.3" y1="1079.5" x2="1973.5" y2="1079.5" stroke="#00ff00" stroke-width="12.5"/>
<text font-size="43" text-anchor="start"><tspan x="1979.2" y="1091.7">N</tspan><tspan x="2011.2" y="1111" font-size="31">A</tspan><tspan x="2031.6" y="1095.1" font-size="47" font-weight="normal">=</tspan><tspan x="2056.8" y="1091.7" letter-spacing="-1.6">1.1</tspan><tspan x="2112.1" y="1096.9" font-size="51" font-weight="normal">×</tspan><tspan x="2144" y="1091.7">10</tspan><tspan x="2187.6" y="1070.5" font-size="32.5">19</tspan><tspan x="2232" y="1091.7" letter-spacing="-1.2">cm</tspan><tspan x="2285.2" y="1070.5" font-size="32.5">-3</tspan></text>
</g>
<g id="c-labels">
<text x="1801.4" y="86" font-size="70" text-anchor="end">100</text>
<text x="1801" y="298.3" font-size="70" text-anchor="end">50</text>
<text x="1801" y="512.5" font-size="70" text-anchor="end">0</text>
<text x="1800.4" y="725.7" font-size="70" text-anchor="end">-50</text>
<text x="1800.2" y="940" font-size="70" text-anchor="end">-100</text>
<text x="1798.8" y="1153" font-size="70" text-anchor="end">-150</text>
<text x="1817.4" y="1210" font-size="70" text-anchor="middle">-0.2</text>
<text x="1930.1" y="1210" font-size="70" text-anchor="middle">0</text>
<text x="2040.4" y="1210" font-size="70" text-anchor="middle">0.2</text>
<text x="2151.4" y="1210" font-size="70" text-anchor="middle">0.4</text>
<text x="2262" y="1210" font-size="70" text-anchor="middle">0.6</text>
<text x="2067.5" y="1295" font-size="76" text-anchor="middle">Voltage (V)</text>
<text transform="translate(1669.2 783.8) rotate(-90)" font-size="76" text-anchor="start">J<tspan dx="2.5"> (mA/cm</tspan><tspan font-size="57" dy="-38">2</tspan><tspan dy="38" dx="2.5">)</tspan></text>
<text x="1868" y="135.3" font-size="70" text-anchor="middle">(c)</text>
</g>
</svg>
</body></html>
